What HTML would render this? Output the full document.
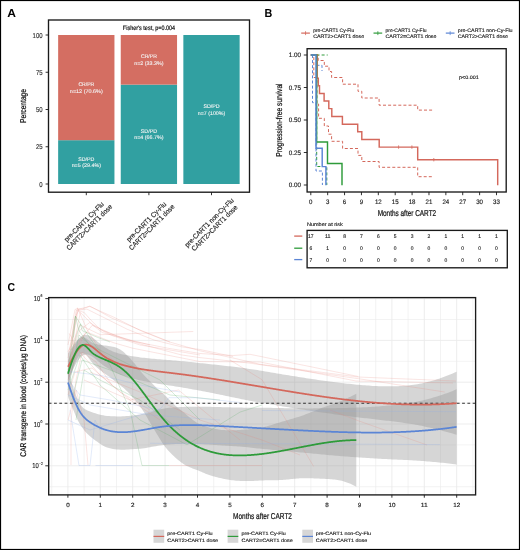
<!DOCTYPE html>
<html><head><meta charset="utf-8"><title>Figure</title>
<style>
html,body{margin:0;padding:0;background:#fff;}
svg{display:block;}
text{font-family:"Liberation Sans", sans-serif;text-rendering:geometricPrecision;}
svg{will-change:transform;}
</style></head>
<body>
<svg width="520" height="550" viewBox="0 0 520 550">
<rect width="520" height="550" fill="#fff"/>
<text x="7.20" y="16.80" font-size="11.5" fill="#000" font-weight="bold" textLength="8.70" lengthAdjust="spacingAndGlyphs">A</text>
<rect x="58.15" y="140.19" width="56.30" height="43.81" fill="#31A0A1"/>
<rect x="58.15" y="35.00" width="56.30" height="105.19" fill="#D46E62"/>
<rect x="120.75" y="84.62" width="56.30" height="99.38" fill="#31A0A1"/>
<rect x="120.75" y="35.00" width="56.30" height="49.62" fill="#D46E62"/>
<rect x="183.35" y="35.00" width="56.30" height="149.00" fill="#31A0A1"/>
<rect x="48.5" y="20" width="201" height="172.2" fill="none" stroke="#1a1a1a" stroke-width="1.35"/>
<line x1="45.6" y1="184.00" x2="48.5" y2="184.00" stroke="#1a1a1a" stroke-width="0.9"/>
<text x="39.27" y="186.50" font-size="7" fill="#333" textLength="3.33" lengthAdjust="spacingAndGlyphs" stroke="#333" stroke-width="0.15">0</text>
<line x1="45.6" y1="146.75" x2="48.5" y2="146.75" stroke="#1a1a1a" stroke-width="0.9"/>
<text x="35.94" y="149.25" font-size="7" fill="#333" textLength="6.66" lengthAdjust="spacingAndGlyphs" stroke="#333" stroke-width="0.15">25</text>
<line x1="45.6" y1="109.50" x2="48.5" y2="109.50" stroke="#1a1a1a" stroke-width="0.9"/>
<text x="35.94" y="112.00" font-size="7" fill="#333" textLength="6.66" lengthAdjust="spacingAndGlyphs" stroke="#333" stroke-width="0.15">50</text>
<line x1="45.6" y1="72.25" x2="48.5" y2="72.25" stroke="#1a1a1a" stroke-width="0.9"/>
<text x="35.94" y="74.75" font-size="7" fill="#333" textLength="6.66" lengthAdjust="spacingAndGlyphs" stroke="#333" stroke-width="0.15">75</text>
<line x1="45.6" y1="35.00" x2="48.5" y2="35.00" stroke="#1a1a1a" stroke-width="0.9"/>
<text x="32.61" y="37.50" font-size="7" fill="#333" textLength="9.99" lengthAdjust="spacingAndGlyphs" stroke="#333" stroke-width="0.15">100</text>
<line x1="86.30" y1="192.2" x2="86.30" y2="195.2" stroke="#1a1a1a" stroke-width="0.9"/>
<line x1="148.90" y1="192.2" x2="148.90" y2="195.2" stroke="#1a1a1a" stroke-width="0.9"/>
<line x1="211.50" y1="192.2" x2="211.50" y2="195.2" stroke="#1a1a1a" stroke-width="0.9"/>
<text x="122.85" y="29.60" font-size="6.3" fill="#000" textLength="52.30" lengthAdjust="spacingAndGlyphs" stroke="#000" stroke-width="0.15">Fisher's test, p=0.004</text>
<g transform="translate(25.7,106) rotate(-90)">
<text x="-17.00" y="0.00" font-size="8.5" fill="#111" textLength="34.00" lengthAdjust="spacingAndGlyphs" stroke="#111" stroke-width="0.22">Percentage</text>
</g>
<text x="78.40" y="86.20" font-size="5.2" fill="#F4F4F4" textLength="15.80" lengthAdjust="spacingAndGlyphs" stroke="#F4F4F4" stroke-width="0.1">CR/PR</text>
<text x="69.85" y="92.70" font-size="5.2" fill="#F4F4F4" textLength="32.90" lengthAdjust="spacingAndGlyphs" stroke="#F4F4F4" stroke-width="0.1">n=12 (70.6%)</text>
<text x="78.20" y="160.70" font-size="5.2" fill="#F4F4F4" textLength="16.20" lengthAdjust="spacingAndGlyphs" stroke="#F4F4F4" stroke-width="0.1">SD/PD</text>
<text x="71.65" y="167.20" font-size="5.2" fill="#F4F4F4" textLength="29.30" lengthAdjust="spacingAndGlyphs" stroke="#F4F4F4" stroke-width="0.1">n=5 (29.4%)</text>
<text x="141.00" y="58.41" font-size="5.2" fill="#F4F4F4" textLength="15.80" lengthAdjust="spacingAndGlyphs" stroke="#F4F4F4" stroke-width="0.1">CR/PR</text>
<text x="134.25" y="64.91" font-size="5.2" fill="#F4F4F4" textLength="29.30" lengthAdjust="spacingAndGlyphs" stroke="#F4F4F4" stroke-width="0.1">n=2 (33.3%)</text>
<text x="140.80" y="132.91" font-size="5.2" fill="#F4F4F4" textLength="16.20" lengthAdjust="spacingAndGlyphs" stroke="#F4F4F4" stroke-width="0.1">SD/PD</text>
<text x="134.25" y="139.41" font-size="5.2" fill="#F4F4F4" textLength="29.30" lengthAdjust="spacingAndGlyphs" stroke="#F4F4F4" stroke-width="0.1">n=4 (66.7%)</text>
<text x="203.40" y="108.10" font-size="5.2" fill="#F4F4F4" textLength="16.20" lengthAdjust="spacingAndGlyphs" stroke="#F4F4F4" stroke-width="0.1">SD/PD</text>
<text x="197.75" y="114.60" font-size="5.2" fill="#F4F4F4" textLength="27.50" lengthAdjust="spacingAndGlyphs" stroke="#F4F4F4" stroke-width="0.1">n=7 (100%)</text>
<g transform="translate(86.50,224.40) rotate(-45)">
<text x="-26.50" y="-1.25" font-size="7.0" fill="#222" textLength="53.00" lengthAdjust="spacingAndGlyphs" stroke="#222" stroke-width="0.15">pre-CART1 Cy-Flu</text>
<text x="-30.75" y="6.35" font-size="7.0" fill="#222" textLength="61.50" lengthAdjust="spacingAndGlyphs" stroke="#222" stroke-width="0.15">CART2&gt;CART1 dose</text>
</g>
<g transform="translate(148.90,224.40) rotate(-45)">
<text x="-26.50" y="-1.25" font-size="7.0" fill="#222" textLength="53.00" lengthAdjust="spacingAndGlyphs" stroke="#222" stroke-width="0.15">pre-CART1 Cy-Flu</text>
<text x="-30.75" y="6.35" font-size="7.0" fill="#222" textLength="61.50" lengthAdjust="spacingAndGlyphs" stroke="#222" stroke-width="0.15">CART2=CART1 dose</text>
</g>
<g transform="translate(211.70,225.20) rotate(-45)">
<text x="-33.10" y="-1.25" font-size="7.0" fill="#222" textLength="66.20" lengthAdjust="spacingAndGlyphs" stroke="#222" stroke-width="0.15">pre-CART1 non-Cy-Flu</text>
<text x="-30.90" y="6.35" font-size="7.0" fill="#222" textLength="61.80" lengthAdjust="spacingAndGlyphs" stroke="#222" stroke-width="0.15">CART2&gt;CART1 dose</text>
</g>
<text x="264.60" y="16.90" font-size="11.5" fill="#000" font-weight="bold" textLength="7.80" lengthAdjust="spacingAndGlyphs">B</text>
<line x1="301.20" y1="33.1" x2="309.90" y2="33.1" stroke="#D4685C" stroke-width="1.2"/>
<line x1="305.55" y1="31.2" x2="305.55" y2="35.1" stroke="#D4685C" stroke-width="0.8"/>
<text x="313.20" y="31.60" font-size="4.95" fill="#222" textLength="41.00" lengthAdjust="spacingAndGlyphs" stroke="#222" stroke-width="0.14">pre-CART1 Cy-Flu</text>
<text x="313.20" y="37.90" font-size="4.95" fill="#222" textLength="51.00" lengthAdjust="spacingAndGlyphs" stroke="#222" stroke-width="0.14">CART2&gt;CART1 dose</text>
<line x1="373.50" y1="33.1" x2="382.20" y2="33.1" stroke="#2E9B3A" stroke-width="1.2"/>
<line x1="377.85" y1="31.2" x2="377.85" y2="35.1" stroke="#2E9B3A" stroke-width="0.8"/>
<text x="385.50" y="31.60" font-size="4.95" fill="#222" textLength="41.00" lengthAdjust="spacingAndGlyphs" stroke="#222" stroke-width="0.14">pre-CART1 Cy-Flu</text>
<text x="385.50" y="37.90" font-size="4.95" fill="#222" textLength="51.00" lengthAdjust="spacingAndGlyphs" stroke="#222" stroke-width="0.14">CART2=CART1 dose</text>
<line x1="445.80" y1="33.1" x2="454.50" y2="33.1" stroke="#5B85D5" stroke-width="1.2"/>
<line x1="450.15" y1="31.2" x2="450.15" y2="35.1" stroke="#5B85D5" stroke-width="0.8"/>
<text x="457.70" y="31.60" font-size="4.95" fill="#222" textLength="54.90" lengthAdjust="spacingAndGlyphs" stroke="#222" stroke-width="0.14">pre-CART1 non-Cy-Flu</text>
<text x="457.70" y="37.90" font-size="4.95" fill="#222" textLength="50.30" lengthAdjust="spacingAndGlyphs" stroke="#222" stroke-width="0.14">CART2&gt;CART1 dose</text>
<path d="M310.8,55 H318.2 V60.5 H324.3 V66.2 H329 V71.5 H331.6 V77.5 H342.6 V84.2 H358 V91.3 H361.8 V98 H379.1 V105.2 H417.7 V110.1 H433.5" fill="none" stroke="#D4685C" stroke-width="1.0" stroke-dasharray="3,2.1" stroke-linejoin="miter" stroke-linecap="butt"/>
<path d="M310.8,55 H313.8 V77.5 H316.9 V104 H318.6 V118.3 H324.3 V126 H328.5 V134.2 H331.6 V141.3 H342.6 V148.5 H358 V155.4 H361.8 V161.5 H379.1 V167.3 H417.7 V176.7 H433.5" fill="none" stroke="#D4685C" stroke-width="1.0" stroke-dasharray="3,2.1" stroke-linejoin="miter" stroke-linecap="butt"/>
<path d="M316.5,55 H327.7" fill="none" stroke="#2E9B3A" stroke-width="1.0" stroke-dasharray="3,2.1" stroke-linejoin="miter" stroke-linecap="butt"/>
<path d="M316.7,55 V166.5 H326.8 V185" fill="none" stroke="#2E9B3A" stroke-width="1.0" stroke-dasharray="3,2.1" stroke-linejoin="miter" stroke-linecap="butt"/>
<path d="M312.5,55 V102.7 H316 V171 H322.4 V185" fill="none" stroke="#5B85D5" stroke-width="1.0" stroke-dasharray="3,2.1" stroke-linejoin="miter" stroke-linecap="butt"/>
<path d="M316.5,65.3 H322 V71" fill="none" stroke="#5B85D5" stroke-width="1.0" stroke-dasharray="3,2.1" stroke-linejoin="miter" stroke-linecap="butt"/>
<path d="M310.8,55 H317.2 V78.3 H318.3 V85.8 H319.5 V93.4 H324.1 V100.9 H328.8 V108.6 H331.8 V116.4 H342.4 V124.2 H357.7 V131.8 H361.8 V139.5 H379.2 V147.1 H417.7 V159.7 H497.7 V185.2" fill="none" stroke="#D4685C" stroke-width="1.45" stroke-linejoin="miter" stroke-linecap="butt"/>
<line x1="398.6" y1="145.4" x2="398.6" y2="148.79999999999998" stroke="#D4685C" stroke-width="0.8"/>
<line x1="411.9" y1="145.4" x2="411.9" y2="148.79999999999998" stroke="#D4685C" stroke-width="0.8"/>
<line x1="433.8" y1="158.0" x2="433.8" y2="161.39999999999998" stroke="#D4685C" stroke-width="0.8"/>
<path d="M310.8,55 H316.6 V142 H327.5 V163.5 H342 V185.2" fill="none" stroke="#2E9B3A" stroke-width="1.45" stroke-linejoin="miter" stroke-linecap="butt"/>
<path d="M310.8,55 H316.0 V148.2 H322.2 V166.6 H325.9 V185.2" fill="none" stroke="#5B85D5" stroke-width="1.45" stroke-linejoin="miter" stroke-linecap="butt"/>
<rect x="307.1" y="48.7" width="199.1" height="143.3" fill="none" stroke="#1a1a1a" stroke-width="1.35"/>
<line x1="303.8" y1="55.00" x2="307.1" y2="55.00" stroke="#1a1a1a" stroke-width="0.9"/>
<text x="288.80" y="57.30" font-size="6.4" fill="#222" textLength="12.30" lengthAdjust="spacingAndGlyphs" stroke="#222" stroke-width="0.15">1.00</text>
<line x1="303.8" y1="87.50" x2="307.1" y2="87.50" stroke="#1a1a1a" stroke-width="0.9"/>
<text x="288.80" y="89.80" font-size="6.4" fill="#222" textLength="12.30" lengthAdjust="spacingAndGlyphs" stroke="#222" stroke-width="0.15">0.75</text>
<line x1="303.8" y1="120.00" x2="307.1" y2="120.00" stroke="#1a1a1a" stroke-width="0.9"/>
<text x="288.80" y="122.30" font-size="6.4" fill="#222" textLength="12.30" lengthAdjust="spacingAndGlyphs" stroke="#222" stroke-width="0.15">0.50</text>
<line x1="303.8" y1="152.50" x2="307.1" y2="152.50" stroke="#1a1a1a" stroke-width="0.9"/>
<text x="288.80" y="154.80" font-size="6.4" fill="#222" textLength="12.30" lengthAdjust="spacingAndGlyphs" stroke="#222" stroke-width="0.15">0.25</text>
<line x1="303.8" y1="185.00" x2="307.1" y2="185.00" stroke="#1a1a1a" stroke-width="0.9"/>
<text x="288.80" y="187.30" font-size="6.4" fill="#222" textLength="12.30" lengthAdjust="spacingAndGlyphs" stroke="#222" stroke-width="0.15">0.00</text>
<line x1="310.80" y1="192" x2="310.80" y2="195.2" stroke="#1a1a1a" stroke-width="0.9"/>
<text x="309.10" y="204.00" font-size="6.4" fill="#222" textLength="3.40" lengthAdjust="spacingAndGlyphs" stroke="#222" stroke-width="0.15">0</text>
<line x1="327.68" y1="192" x2="327.68" y2="195.2" stroke="#1a1a1a" stroke-width="0.9"/>
<text x="325.98" y="204.00" font-size="6.4" fill="#222" textLength="3.40" lengthAdjust="spacingAndGlyphs" stroke="#222" stroke-width="0.15">3</text>
<line x1="344.56" y1="192" x2="344.56" y2="195.2" stroke="#1a1a1a" stroke-width="0.9"/>
<text x="342.86" y="204.00" font-size="6.4" fill="#222" textLength="3.40" lengthAdjust="spacingAndGlyphs" stroke="#222" stroke-width="0.15">6</text>
<line x1="361.44" y1="192" x2="361.44" y2="195.2" stroke="#1a1a1a" stroke-width="0.9"/>
<text x="359.74" y="204.00" font-size="6.4" fill="#222" textLength="3.40" lengthAdjust="spacingAndGlyphs" stroke="#222" stroke-width="0.15">9</text>
<line x1="378.32" y1="192" x2="378.32" y2="195.2" stroke="#1a1a1a" stroke-width="0.9"/>
<text x="374.92" y="204.00" font-size="6.4" fill="#222" textLength="6.80" lengthAdjust="spacingAndGlyphs" stroke="#222" stroke-width="0.15">12</text>
<line x1="395.21" y1="192" x2="395.21" y2="195.2" stroke="#1a1a1a" stroke-width="0.9"/>
<text x="391.81" y="204.00" font-size="6.4" fill="#222" textLength="6.80" lengthAdjust="spacingAndGlyphs" stroke="#222" stroke-width="0.15">15</text>
<line x1="412.09" y1="192" x2="412.09" y2="195.2" stroke="#1a1a1a" stroke-width="0.9"/>
<text x="408.69" y="204.00" font-size="6.4" fill="#222" textLength="6.80" lengthAdjust="spacingAndGlyphs" stroke="#222" stroke-width="0.15">18</text>
<line x1="428.97" y1="192" x2="428.97" y2="195.2" stroke="#1a1a1a" stroke-width="0.9"/>
<text x="425.57" y="204.00" font-size="6.4" fill="#222" textLength="6.80" lengthAdjust="spacingAndGlyphs" stroke="#222" stroke-width="0.15">21</text>
<line x1="445.85" y1="192" x2="445.85" y2="195.2" stroke="#1a1a1a" stroke-width="0.9"/>
<text x="442.45" y="204.00" font-size="6.4" fill="#222" textLength="6.80" lengthAdjust="spacingAndGlyphs" stroke="#222" stroke-width="0.15">24</text>
<line x1="462.73" y1="192" x2="462.73" y2="195.2" stroke="#1a1a1a" stroke-width="0.9"/>
<text x="459.33" y="204.00" font-size="6.4" fill="#222" textLength="6.80" lengthAdjust="spacingAndGlyphs" stroke="#222" stroke-width="0.15">27</text>
<line x1="479.61" y1="192" x2="479.61" y2="195.2" stroke="#1a1a1a" stroke-width="0.9"/>
<text x="476.21" y="204.00" font-size="6.4" fill="#222" textLength="6.80" lengthAdjust="spacingAndGlyphs" stroke="#222" stroke-width="0.15">30</text>
<line x1="496.49" y1="192" x2="496.49" y2="195.2" stroke="#1a1a1a" stroke-width="0.9"/>
<text x="493.09" y="204.00" font-size="6.4" fill="#222" textLength="6.80" lengthAdjust="spacingAndGlyphs" stroke="#222" stroke-width="0.15">33</text>
<text x="377.65" y="216.10" font-size="8.5" fill="#111" textLength="58.50" lengthAdjust="spacingAndGlyphs" stroke="#111" stroke-width="0.22">Months after CART2</text>
<g transform="translate(282.2,120.1) rotate(-90)">
<text x="-36.65" y="0.00" font-size="8.5" fill="#111" textLength="73.30" lengthAdjust="spacingAndGlyphs" stroke="#111" stroke-width="0.22">Progression-free survival</text>
</g>
<text x="459.10" y="78.75" font-size="5.0" fill="#222" textLength="19.70" lengthAdjust="spacingAndGlyphs" stroke="#222" stroke-width="0.14">p&lt;0.001</text>
<text x="306.90" y="225.60" font-size="5.0" fill="#222" textLength="36.00" lengthAdjust="spacingAndGlyphs" stroke="#222" stroke-width="0.14">Number at risk</text>
<rect x="307.1" y="230.4" width="200.2" height="37.4" fill="none" stroke="#1a1a1a" stroke-width="1.35"/>
<line x1="294.2" y1="236.1" x2="302.3" y2="236.1" stroke="#D4685C" stroke-width="1.3"/>
<text x="308.05" y="238.00" font-size="5.3" fill="#222" textLength="5.50" lengthAdjust="spacingAndGlyphs" stroke="#222" stroke-width="0.14">17</text>
<text x="324.93" y="238.00" font-size="5.3" fill="#222" textLength="5.50" lengthAdjust="spacingAndGlyphs" stroke="#222" stroke-width="0.14">11</text>
<text x="343.19" y="238.00" font-size="5.3" fill="#222" textLength="2.75" lengthAdjust="spacingAndGlyphs" stroke="#222" stroke-width="0.14">8</text>
<text x="360.07" y="238.00" font-size="5.3" fill="#222" textLength="2.75" lengthAdjust="spacingAndGlyphs" stroke="#222" stroke-width="0.14">7</text>
<text x="376.95" y="238.00" font-size="5.3" fill="#222" textLength="2.75" lengthAdjust="spacingAndGlyphs" stroke="#222" stroke-width="0.14">6</text>
<text x="393.83" y="238.00" font-size="5.3" fill="#222" textLength="2.75" lengthAdjust="spacingAndGlyphs" stroke="#222" stroke-width="0.14">5</text>
<text x="410.71" y="238.00" font-size="5.3" fill="#222" textLength="2.75" lengthAdjust="spacingAndGlyphs" stroke="#222" stroke-width="0.14">3</text>
<text x="427.59" y="238.00" font-size="5.3" fill="#222" textLength="2.75" lengthAdjust="spacingAndGlyphs" stroke="#222" stroke-width="0.14">2</text>
<text x="444.47" y="238.00" font-size="5.3" fill="#222" textLength="2.75" lengthAdjust="spacingAndGlyphs" stroke="#222" stroke-width="0.14">1</text>
<text x="461.35" y="238.00" font-size="5.3" fill="#222" textLength="2.75" lengthAdjust="spacingAndGlyphs" stroke="#222" stroke-width="0.14">1</text>
<text x="478.24" y="238.00" font-size="5.3" fill="#222" textLength="2.75" lengthAdjust="spacingAndGlyphs" stroke="#222" stroke-width="0.14">1</text>
<text x="495.12" y="238.00" font-size="5.3" fill="#222" textLength="2.75" lengthAdjust="spacingAndGlyphs" stroke="#222" stroke-width="0.14">1</text>
<line x1="294.2" y1="248.2" x2="302.3" y2="248.2" stroke="#2E9B3A" stroke-width="1.3"/>
<text x="309.43" y="250.10" font-size="5.3" fill="#222" textLength="2.75" lengthAdjust="spacingAndGlyphs" stroke="#222" stroke-width="0.14">6</text>
<text x="326.31" y="250.10" font-size="5.3" fill="#222" textLength="2.75" lengthAdjust="spacingAndGlyphs" stroke="#222" stroke-width="0.14">1</text>
<text x="343.19" y="250.10" font-size="5.3" fill="#222" textLength="2.75" lengthAdjust="spacingAndGlyphs" stroke="#222" stroke-width="0.14">0</text>
<text x="360.07" y="250.10" font-size="5.3" fill="#222" textLength="2.75" lengthAdjust="spacingAndGlyphs" stroke="#222" stroke-width="0.14">0</text>
<text x="376.95" y="250.10" font-size="5.3" fill="#222" textLength="2.75" lengthAdjust="spacingAndGlyphs" stroke="#222" stroke-width="0.14">0</text>
<text x="393.83" y="250.10" font-size="5.3" fill="#222" textLength="2.75" lengthAdjust="spacingAndGlyphs" stroke="#222" stroke-width="0.14">0</text>
<text x="410.71" y="250.10" font-size="5.3" fill="#222" textLength="2.75" lengthAdjust="spacingAndGlyphs" stroke="#222" stroke-width="0.14">0</text>
<text x="427.59" y="250.10" font-size="5.3" fill="#222" textLength="2.75" lengthAdjust="spacingAndGlyphs" stroke="#222" stroke-width="0.14">0</text>
<text x="444.47" y="250.10" font-size="5.3" fill="#222" textLength="2.75" lengthAdjust="spacingAndGlyphs" stroke="#222" stroke-width="0.14">0</text>
<text x="461.35" y="250.10" font-size="5.3" fill="#222" textLength="2.75" lengthAdjust="spacingAndGlyphs" stroke="#222" stroke-width="0.14">0</text>
<text x="478.24" y="250.10" font-size="5.3" fill="#222" textLength="2.75" lengthAdjust="spacingAndGlyphs" stroke="#222" stroke-width="0.14">0</text>
<text x="495.12" y="250.10" font-size="5.3" fill="#222" textLength="2.75" lengthAdjust="spacingAndGlyphs" stroke="#222" stroke-width="0.14">0</text>
<line x1="294.2" y1="259.6" x2="302.3" y2="259.6" stroke="#5B85D5" stroke-width="1.3"/>
<text x="309.43" y="261.50" font-size="5.3" fill="#222" textLength="2.75" lengthAdjust="spacingAndGlyphs" stroke="#222" stroke-width="0.14">7</text>
<text x="326.31" y="261.50" font-size="5.3" fill="#222" textLength="2.75" lengthAdjust="spacingAndGlyphs" stroke="#222" stroke-width="0.14">0</text>
<text x="343.19" y="261.50" font-size="5.3" fill="#222" textLength="2.75" lengthAdjust="spacingAndGlyphs" stroke="#222" stroke-width="0.14">0</text>
<text x="360.07" y="261.50" font-size="5.3" fill="#222" textLength="2.75" lengthAdjust="spacingAndGlyphs" stroke="#222" stroke-width="0.14">0</text>
<text x="376.95" y="261.50" font-size="5.3" fill="#222" textLength="2.75" lengthAdjust="spacingAndGlyphs" stroke="#222" stroke-width="0.14">0</text>
<text x="393.83" y="261.50" font-size="5.3" fill="#222" textLength="2.75" lengthAdjust="spacingAndGlyphs" stroke="#222" stroke-width="0.14">0</text>
<text x="410.71" y="261.50" font-size="5.3" fill="#222" textLength="2.75" lengthAdjust="spacingAndGlyphs" stroke="#222" stroke-width="0.14">0</text>
<text x="427.59" y="261.50" font-size="5.3" fill="#222" textLength="2.75" lengthAdjust="spacingAndGlyphs" stroke="#222" stroke-width="0.14">0</text>
<text x="444.47" y="261.50" font-size="5.3" fill="#222" textLength="2.75" lengthAdjust="spacingAndGlyphs" stroke="#222" stroke-width="0.14">0</text>
<text x="461.35" y="261.50" font-size="5.3" fill="#222" textLength="2.75" lengthAdjust="spacingAndGlyphs" stroke="#222" stroke-width="0.14">0</text>
<text x="478.24" y="261.50" font-size="5.3" fill="#222" textLength="2.75" lengthAdjust="spacingAndGlyphs" stroke="#222" stroke-width="0.14">0</text>
<text x="495.12" y="261.50" font-size="5.3" fill="#222" textLength="2.75" lengthAdjust="spacingAndGlyphs" stroke="#222" stroke-width="0.14">0</text>
<text x="7.40" y="291.20" font-size="11.5" fill="#000" font-weight="bold" textLength="7.60" lengthAdjust="spacingAndGlyphs">C</text>
<g stroke="#EBEBEB">
<line x1="51.70" y1="297.6" x2="51.70" y2="494.9" stroke-width="0.6"/>
<line x1="67.90" y1="297.6" x2="67.90" y2="494.9" stroke-width="0.9"/>
<line x1="84.10" y1="297.6" x2="84.10" y2="494.9" stroke-width="0.6"/>
<line x1="100.30" y1="297.6" x2="100.30" y2="494.9" stroke-width="0.9"/>
<line x1="116.50" y1="297.6" x2="116.50" y2="494.9" stroke-width="0.6"/>
<line x1="132.70" y1="297.6" x2="132.70" y2="494.9" stroke-width="0.9"/>
<line x1="148.90" y1="297.6" x2="148.90" y2="494.9" stroke-width="0.6"/>
<line x1="165.10" y1="297.6" x2="165.10" y2="494.9" stroke-width="0.9"/>
<line x1="181.30" y1="297.6" x2="181.30" y2="494.9" stroke-width="0.6"/>
<line x1="197.50" y1="297.6" x2="197.50" y2="494.9" stroke-width="0.9"/>
<line x1="213.70" y1="297.6" x2="213.70" y2="494.9" stroke-width="0.6"/>
<line x1="229.90" y1="297.6" x2="229.90" y2="494.9" stroke-width="0.9"/>
<line x1="246.10" y1="297.6" x2="246.10" y2="494.9" stroke-width="0.6"/>
<line x1="262.30" y1="297.6" x2="262.30" y2="494.9" stroke-width="0.9"/>
<line x1="278.50" y1="297.6" x2="278.50" y2="494.9" stroke-width="0.6"/>
<line x1="294.70" y1="297.6" x2="294.70" y2="494.9" stroke-width="0.9"/>
<line x1="310.90" y1="297.6" x2="310.90" y2="494.9" stroke-width="0.6"/>
<line x1="327.10" y1="297.6" x2="327.10" y2="494.9" stroke-width="0.9"/>
<line x1="343.30" y1="297.6" x2="343.30" y2="494.9" stroke-width="0.6"/>
<line x1="359.50" y1="297.6" x2="359.50" y2="494.9" stroke-width="0.9"/>
<line x1="375.70" y1="297.6" x2="375.70" y2="494.9" stroke-width="0.6"/>
<line x1="391.90" y1="297.6" x2="391.90" y2="494.9" stroke-width="0.9"/>
<line x1="408.10" y1="297.6" x2="408.10" y2="494.9" stroke-width="0.6"/>
<line x1="424.30" y1="297.6" x2="424.30" y2="494.9" stroke-width="0.9"/>
<line x1="440.50" y1="297.6" x2="440.50" y2="494.9" stroke-width="0.6"/>
<line x1="456.70" y1="297.6" x2="456.70" y2="494.9" stroke-width="0.9"/>
<line x1="472.90" y1="297.6" x2="472.90" y2="494.9" stroke-width="0.6"/>
<line x1="48.7" y1="486.70" x2="475.6" y2="486.70" stroke-width="0.6"/>
<line x1="48.7" y1="465.80" x2="475.6" y2="465.80" stroke-width="0.9"/>
<line x1="48.7" y1="444.90" x2="475.6" y2="444.90" stroke-width="0.6"/>
<line x1="48.7" y1="424.00" x2="475.6" y2="424.00" stroke-width="0.9"/>
<line x1="48.7" y1="403.10" x2="475.6" y2="403.10" stroke-width="0.6"/>
<line x1="48.7" y1="382.20" x2="475.6" y2="382.20" stroke-width="0.9"/>
<line x1="48.7" y1="361.30" x2="475.6" y2="361.30" stroke-width="0.6"/>
<line x1="48.7" y1="340.40" x2="475.6" y2="340.40" stroke-width="0.9"/>
<line x1="48.7" y1="319.50" x2="475.6" y2="319.50" stroke-width="0.6"/>
<line x1="48.7" y1="298.60" x2="475.6" y2="298.60" stroke-width="0.9"/>
</g>
<path d="M68.00,353.24 L69.95,350.16 L71.91,347.16 L73.86,344.32 L75.81,341.72 L77.76,339.41 L79.72,337.48 L81.67,336.01 L83.62,335.06 L85.57,334.74 L87.53,334.98 L89.48,335.70 L91.43,336.79 L93.39,338.17 L95.34,339.75 L97.29,341.42 L99.24,343.09 L101.20,344.67 L103.15,346.11 L105.10,347.42 L107.06,348.59 L109.01,349.64 L110.96,350.59 L112.91,351.43 L114.87,352.18 L116.82,352.85 L118.77,353.44 L120.72,353.97 L122.68,354.44 L124.63,354.87 L126.58,355.26 L128.54,355.62 L130.49,355.95 L132.44,356.27 L134.39,356.56 L136.35,356.84 L138.30,357.12 L140.25,357.38 L142.21,357.63 L144.16,357.86 L146.11,358.08 L148.06,358.29 L150.02,358.48 L151.97,358.67 L153.92,358.85 L155.87,359.02 L157.83,359.18 L159.78,359.34 L161.73,359.50 L163.69,359.65 L165.64,359.80 L167.59,359.96 L169.54,360.11 L171.50,360.27 L173.45,360.44 L175.40,360.61 L177.35,360.78 L179.31,360.95 L181.26,361.14 L183.21,361.32 L185.17,361.51 L187.12,361.70 L189.07,361.90 L191.02,362.10 L192.98,362.30 L194.93,362.50 L196.88,362.71 L198.84,362.92 L200.79,363.13 L202.74,363.35 L204.69,363.56 L206.65,363.77 L208.60,363.98 L210.55,364.19 L212.50,364.40 L214.46,364.61 L216.41,364.82 L218.36,365.03 L220.32,365.25 L222.27,365.46 L224.22,365.68 L226.17,365.91 L228.13,366.13 L230.08,366.36 L232.03,366.59 L233.98,366.83 L235.94,367.07 L237.89,367.32 L239.84,367.57 L241.80,367.83 L243.75,368.09 L245.70,368.36 L247.65,368.63 L249.61,368.92 L251.56,369.21 L253.51,369.50 L255.47,369.81 L257.42,370.12 L259.37,370.45 L261.32,370.78 L263.28,371.11 L265.23,371.44 L267.18,371.77 L269.13,372.10 L271.09,372.42 L273.04,372.75 L274.99,373.08 L276.95,373.41 L278.90,373.73 L280.85,374.06 L282.80,374.38 L284.76,374.70 L286.71,375.02 L288.66,375.34 L290.62,375.66 L292.57,375.98 L294.52,376.29 L296.47,376.61 L298.43,376.92 L300.38,377.23 L302.33,377.54 L304.28,377.84 L306.24,378.14 L308.19,378.45 L310.14,378.74 L312.10,379.04 L314.05,379.33 L316.00,379.62 L317.95,379.91 L319.91,380.20 L321.86,380.48 L323.81,380.75 L325.76,381.02 L327.72,381.29 L329.67,381.55 L331.62,381.81 L333.58,382.06 L335.53,382.30 L337.48,382.54 L339.43,382.78 L341.39,383.01 L343.34,383.23 L345.29,383.45 L347.25,383.66 L349.20,383.87 L351.15,384.07 L353.10,384.27 L355.06,384.46 L357.01,384.64 L358.96,384.82 L360.91,384.99 L362.87,385.16 L364.82,385.32 L366.77,385.47 L368.73,385.62 L370.68,385.76 L372.63,385.88 L374.58,385.99 L376.54,386.08 L378.49,386.16 L380.44,386.22 L382.39,386.26 L384.35,386.30 L386.30,386.32 L388.25,386.33 L390.21,386.32 L392.16,386.31 L394.11,386.28 L396.06,386.23 L398.02,386.15 L399.97,386.06 L401.92,385.94 L403.88,385.80 L405.83,385.63 L407.78,385.45 L409.73,385.25 L411.69,385.03 L413.64,384.79 L415.59,384.51 L417.54,384.18 L419.50,383.82 L421.45,383.42 L423.40,382.99 L425.36,382.53 L427.31,382.04 L429.26,381.53 L431.21,381.00 L433.17,380.45 L435.12,379.89 L437.07,379.30 L439.03,378.67 L440.98,378.02 L442.93,377.33 L444.88,376.61 L446.84,375.86 L448.79,375.09 L450.74,374.28 L452.69,373.45 L454.65,372.59 L456.60,371.71 L456.60,434.71 L454.65,434.13 L452.69,433.57 L450.74,433.01 L448.79,432.46 L446.84,431.92 L444.88,431.39 L442.93,430.88 L440.98,430.37 L439.03,429.88 L437.07,429.41 L435.12,428.95 L433.17,428.50 L431.21,428.04 L429.26,427.59 L427.31,427.14 L425.36,426.70 L423.40,426.26 L421.45,425.84 L419.50,425.44 L417.54,425.06 L415.59,424.70 L413.64,424.37 L411.69,424.06 L409.73,423.76 L407.78,423.46 L405.83,423.17 L403.88,422.89 L401.92,422.61 L399.97,422.34 L398.02,422.07 L396.06,421.82 L394.11,421.57 L392.16,421.33 L390.21,421.10 L388.25,420.86 L386.30,420.63 L384.35,420.39 L382.39,420.15 L380.44,419.91 L378.49,419.68 L376.54,419.45 L374.58,419.22 L372.63,419.00 L370.68,418.78 L368.73,418.57 L366.77,418.36 L364.82,418.14 L362.87,417.92 L360.91,417.69 L358.96,417.46 L357.01,417.22 L355.06,416.98 L353.10,416.74 L351.15,416.49 L349.20,416.24 L347.25,415.99 L345.29,415.73 L343.34,415.48 L341.39,415.21 L339.43,414.95 L337.48,414.68 L335.53,414.42 L333.58,414.14 L331.62,413.87 L329.67,413.60 L327.72,413.32 L325.76,413.04 L323.81,412.76 L321.86,412.48 L319.91,412.20 L317.95,411.91 L316.00,411.62 L314.05,411.33 L312.10,411.04 L310.14,410.74 L308.19,410.45 L306.24,410.14 L304.28,409.84 L302.33,409.54 L300.38,409.23 L298.43,408.92 L296.47,408.61 L294.52,408.29 L292.57,407.98 L290.62,407.66 L288.66,407.34 L286.71,407.02 L284.76,406.70 L282.80,406.38 L280.85,406.06 L278.90,405.73 L276.95,405.41 L274.99,405.08 L273.04,404.75 L271.09,404.42 L269.13,404.10 L267.18,403.77 L265.23,403.44 L263.28,403.11 L261.32,402.78 L259.37,402.45 L257.42,402.11 L255.47,401.76 L253.51,401.41 L251.56,401.05 L249.61,400.68 L247.65,400.30 L245.70,399.92 L243.75,399.54 L241.80,399.14 L239.84,398.75 L237.89,398.35 L235.94,397.95 L233.98,397.54 L232.03,397.14 L230.08,396.73 L228.13,396.32 L226.17,395.91 L224.22,395.50 L222.27,395.09 L220.32,394.69 L218.36,394.28 L216.41,393.88 L214.46,393.48 L212.50,393.08 L210.55,392.68 L208.60,392.29 L206.65,391.91 L204.69,391.53 L202.74,391.16 L200.79,390.79 L198.84,390.43 L196.88,390.08 L194.93,389.73 L192.98,389.38 L191.02,389.03 L189.07,388.69 L187.12,388.35 L185.17,388.02 L183.21,387.69 L181.26,387.36 L179.31,387.03 L177.35,386.71 L175.40,386.40 L173.45,386.09 L171.50,385.78 L169.54,385.47 L167.59,385.17 L165.64,384.87 L163.69,384.57 L161.73,384.27 L159.78,383.96 L157.83,383.65 L155.87,383.33 L153.92,383.01 L151.97,382.67 L150.02,382.33 L148.06,381.97 L146.11,381.60 L144.16,381.22 L142.21,380.82 L140.25,380.40 L138.30,379.96 L136.35,379.49 L134.39,378.99 L132.44,378.46 L130.49,377.90 L128.54,377.31 L126.58,376.69 L124.63,376.04 L122.68,375.35 L120.72,374.63 L118.77,373.85 L116.82,373.02 L114.87,372.12 L112.91,371.17 L110.96,370.13 L109.01,369.02 L107.06,367.83 L105.10,366.54 L103.15,365.16 L101.20,363.68 L99.24,362.09 L97.29,360.45 L95.34,358.83 L93.39,357.34 L91.43,356.07 L89.48,355.11 L87.53,354.55 L85.57,354.48 L83.62,354.99 L81.67,356.21 L79.72,358.19 L77.76,360.83 L75.81,364.02 L73.86,367.67 L71.91,371.66 L69.95,375.88 L68.00,380.24 Z" fill="#999999" fill-opacity="0.4"/>
<path d="M68.00,360.79 L69.45,356.91 L70.90,353.24 L72.35,349.84 L73.79,346.73 L75.24,343.97 L76.69,341.61 L78.14,339.68 L79.59,338.23 L81.04,337.30 L82.49,336.94 L83.94,337.18 L85.38,337.88 L86.83,338.84 L88.28,339.95 L89.73,341.07 L91.18,342.10 L92.63,342.92 L94.08,343.51 L95.53,343.98 L96.97,344.34 L98.42,344.63 L99.87,344.87 L101.32,345.07 L102.77,345.24 L104.22,345.41 L105.67,345.58 L107.12,345.79 L108.56,346.03 L110.01,346.26 L111.46,346.50 L112.91,346.77 L114.36,347.10 L115.81,347.51 L117.26,348.02 L118.71,348.66 L120.15,349.46 L121.60,350.44 L123.05,351.59 L124.50,352.83 L125.95,354.16 L127.40,355.57 L128.85,357.05 L130.30,358.60 L131.74,360.21 L133.19,361.89 L134.64,363.61 L136.09,365.39 L137.54,367.21 L138.99,369.07 L140.44,370.95 L141.89,372.74 L143.33,374.42 L144.78,376.00 L146.23,377.51 L147.68,378.97 L149.13,380.40 L150.58,381.83 L152.03,383.27 L153.48,384.75 L154.92,386.24 L156.37,387.66 L157.82,389.00 L159.27,390.30 L160.72,391.56 L162.17,392.82 L163.62,394.10 L165.07,395.41 L166.51,396.79 L167.96,398.27 L169.41,399.79 L170.86,401.25 L172.31,402.67 L173.76,404.05 L175.21,405.38 L176.66,406.66 L178.10,407.90 L179.55,409.10 L181.00,410.26 L182.45,411.41 L183.90,412.60 L185.35,413.81 L186.80,415.02 L188.25,416.24 L189.69,417.43 L191.14,418.59 L192.59,419.71 L194.04,420.77 L195.49,421.77 L196.94,422.68 L198.39,423.50 L199.84,424.22 L201.28,424.85 L202.73,425.43 L204.18,425.97 L205.63,426.48 L207.08,426.94 L208.53,427.37 L209.98,427.77 L211.43,428.13 L212.87,428.47 L214.32,428.77 L215.77,429.05 L217.22,429.31 L218.67,429.53 L220.12,429.72 L221.57,429.88 L223.02,430.01 L224.46,430.11 L225.91,430.18 L227.36,430.23 L228.81,430.26 L230.26,430.27 L231.71,430.25 L233.16,430.23 L234.61,430.18 L236.05,430.13 L237.50,430.06 L238.95,429.99 L240.40,429.91 L241.85,429.82 L243.30,429.73 L244.75,429.62 L246.20,429.51 L247.64,429.39 L249.09,429.25 L250.54,429.11 L251.99,428.95 L253.44,428.78 L254.89,428.59 L256.34,428.39 L257.79,428.18 L259.23,427.94 L260.68,427.69 L262.13,427.42 L263.58,427.13 L265.03,426.79 L266.48,426.43 L267.93,426.03 L269.38,425.62 L270.82,425.19 L272.27,424.74 L273.72,424.29 L275.17,423.83 L276.62,423.36 L278.07,422.91 L279.52,422.45 L280.97,422.02 L282.41,421.59 L283.86,421.17 L285.31,420.75 L286.76,420.34 L288.21,419.92 L289.66,419.51 L291.11,419.09 L292.56,418.67 L294.00,418.24 L295.45,417.81 L296.90,417.36 L298.35,416.90 L299.80,416.42 L301.25,415.93 L302.70,415.42 L304.15,414.89 L305.59,414.34 L307.04,413.78 L308.49,413.21 L309.94,412.63 L311.39,412.05 L312.84,411.46 L314.29,410.88 L315.74,410.30 L317.18,409.72 L318.63,409.16 L320.08,408.60 L321.53,408.06 L322.98,407.53 L324.43,407.01 L325.88,406.50 L327.33,405.99 L328.77,405.49 L330.22,404.98 L331.67,404.48 L333.12,403.97 L334.57,403.46 L336.02,402.94 L337.47,402.40 L338.92,401.85 L340.36,401.29 L341.81,400.70 L343.26,400.08 L344.71,399.43 L346.16,398.75 L347.61,398.06 L349.06,397.35 L350.51,396.63 L351.95,395.89 L353.40,395.14 L354.85,394.39 L356.30,393.64 L356.30,486.64 L354.85,485.90 L353.40,485.18 L351.95,484.50 L350.51,483.86 L349.06,483.25 L347.61,482.68 L346.16,482.15 L344.71,481.67 L343.26,481.23 L341.81,480.85 L340.36,480.51 L338.92,480.22 L337.47,479.97 L336.02,479.75 L334.57,479.56 L333.12,479.40 L331.67,479.26 L330.22,479.14 L328.77,479.04 L327.33,478.96 L325.88,478.88 L324.43,478.82 L322.98,478.75 L321.53,478.69 L320.08,478.63 L318.63,478.57 L317.18,478.51 L315.74,478.44 L314.29,478.38 L312.84,478.32 L311.39,478.28 L309.94,478.24 L308.49,478.21 L307.04,478.19 L305.59,478.19 L304.15,478.20 L302.70,478.24 L301.25,478.29 L299.80,478.37 L298.35,478.46 L296.90,478.58 L295.45,478.70 L294.00,478.83 L292.56,478.97 L291.11,479.11 L289.66,479.25 L288.21,479.40 L286.76,479.54 L285.31,479.67 L283.86,479.79 L282.41,479.91 L280.97,480.01 L279.52,480.09 L278.07,480.15 L276.62,480.19 L275.17,480.22 L273.72,480.23 L272.27,480.25 L270.82,480.25 L269.38,480.26 L267.93,480.28 L266.48,480.30 L265.03,480.33 L263.58,480.38 L262.13,480.44 L260.68,480.52 L259.23,480.60 L257.79,480.68 L256.34,480.75 L254.89,480.82 L253.44,480.89 L251.99,480.94 L250.54,480.99 L249.09,481.03 L247.64,481.06 L246.20,481.07 L244.75,481.07 L243.30,481.05 L241.85,481.01 L240.40,480.95 L238.95,480.87 L237.50,480.77 L236.05,480.65 L234.61,480.51 L233.16,480.34 L231.71,480.16 L230.26,479.95 L228.81,479.73 L227.36,479.49 L225.91,479.23 L224.46,478.95 L223.02,478.65 L221.57,478.35 L220.12,478.02 L218.67,477.68 L217.22,477.33 L215.77,476.95 L214.32,476.56 L212.87,476.13 L211.43,475.68 L209.98,475.21 L208.53,474.71 L207.08,474.18 L205.63,473.63 L204.18,473.06 L202.73,472.47 L201.28,471.86 L199.84,471.22 L198.39,470.61 L196.94,470.03 L195.49,469.48 L194.04,468.94 L192.59,468.40 L191.14,467.84 L189.69,467.25 L188.25,466.61 L186.80,465.91 L185.35,465.14 L183.90,464.29 L182.45,463.33 L181.00,462.26 L179.55,461.10 L178.10,459.90 L176.66,458.66 L175.21,457.38 L173.76,456.05 L172.31,454.67 L170.86,453.25 L169.41,451.79 L167.96,450.27 L166.51,448.62 L165.07,446.78 L163.62,444.77 L162.17,442.63 L160.72,440.36 L159.27,438.02 L157.82,435.62 L156.37,433.21 L154.92,430.81 L153.48,428.44 L152.03,426.01 L150.58,423.51 L149.13,420.99 L147.68,418.47 L146.23,415.98 L144.78,413.55 L143.33,411.22 L141.89,409.01 L140.44,406.96 L138.99,405.07 L137.54,403.21 L136.09,401.39 L134.64,399.61 L133.19,397.89 L131.74,396.21 L130.30,394.60 L128.85,393.05 L127.40,391.57 L125.95,390.16 L124.50,388.83 L123.05,387.59 L121.60,386.43 L120.15,385.28 L118.71,384.12 L117.26,382.96 L115.81,381.80 L114.36,380.65 L112.91,379.52 L111.46,378.42 L110.01,377.35 L108.56,376.32 L107.12,375.32 L105.67,374.30 L104.22,373.26 L102.77,372.18 L101.32,371.06 L99.87,369.92 L98.42,368.74 L96.97,367.53 L95.53,366.29 L94.08,364.95 L92.63,363.36 L91.18,361.49 L89.73,359.43 L88.28,357.38 L86.83,355.52 L85.38,354.06 L83.94,353.18 L82.49,353.02 L81.04,353.61 L79.59,354.93 L78.14,356.93 L76.69,359.57 L75.24,362.82 L73.79,366.64 L72.35,370.98 L70.90,375.81 L69.45,381.10 L68.00,386.79 Z" fill="#999999" fill-opacity="0.4"/>
<path d="M68.00,368.53 L69.95,376.22 L71.91,383.31 L73.86,389.58 L75.81,394.87 L77.76,399.47 L79.72,403.32 L81.67,406.30 L83.62,408.29 L85.57,409.54 L87.53,410.40 L89.48,411.20 L91.43,411.95 L93.39,412.65 L95.34,413.30 L97.29,413.90 L99.24,414.44 L101.20,414.92 L103.15,415.33 L105.10,415.67 L107.06,415.90 L109.01,416.05 L110.96,416.13 L112.91,416.20 L114.87,416.29 L116.82,416.38 L118.77,416.41 L120.72,416.39 L122.68,416.33 L124.63,416.23 L126.58,416.10 L128.54,415.94 L130.49,415.76 L132.44,415.55 L134.39,415.31 L136.35,415.04 L138.30,414.75 L140.25,414.43 L142.21,414.10 L144.16,413.75 L146.11,413.40 L148.06,412.95 L150.02,412.38 L151.97,411.72 L153.92,411.04 L155.87,410.38 L157.83,409.79 L159.78,409.33 L161.73,408.98 L163.69,408.66 L165.64,408.37 L167.59,408.11 L169.54,407.87 L171.50,407.67 L173.45,407.48 L175.40,407.32 L177.35,407.19 L179.31,407.07 L181.26,406.97 L183.21,406.89 L185.17,406.82 L187.12,406.77 L189.07,406.73 L191.02,406.70 L192.98,406.69 L194.93,406.68 L196.88,406.68 L198.84,406.69 L200.79,406.70 L202.74,406.72 L204.69,406.74 L206.65,406.78 L208.60,406.82 L210.55,406.86 L212.50,406.91 L214.46,406.96 L216.41,407.01 L218.36,407.06 L220.32,407.11 L222.27,407.16 L224.22,407.21 L226.17,407.27 L228.13,407.31 L230.08,407.36 L232.03,407.41 L233.98,407.46 L235.94,407.50 L237.89,407.54 L239.84,407.58 L241.80,407.61 L243.75,407.63 L245.70,407.65 L247.65,407.65 L249.61,407.65 L251.56,407.65 L253.51,407.65 L255.47,407.65 L257.42,407.66 L259.37,407.68 L261.32,407.70 L263.28,407.73 L265.23,407.76 L267.18,407.79 L269.13,407.82 L271.09,407.86 L273.04,407.90 L274.99,407.93 L276.95,407.97 L278.90,408.01 L280.85,408.05 L282.80,408.09 L284.76,408.13 L286.71,408.16 L288.66,408.20 L290.62,408.23 L292.57,408.26 L294.52,408.29 L296.47,408.31 L298.43,408.33 L300.38,408.35 L302.33,408.36 L304.28,408.37 L306.24,408.38 L308.19,408.38 L310.14,408.38 L312.10,408.38 L314.05,408.37 L316.00,408.36 L317.95,408.35 L319.91,408.34 L321.86,408.32 L323.81,408.30 L325.76,408.28 L327.72,408.26 L329.67,408.23 L331.62,408.20 L333.58,408.17 L335.53,408.13 L337.48,408.09 L339.43,408.05 L341.39,408.01 L343.34,407.97 L345.29,407.93 L347.25,407.88 L349.20,407.83 L351.15,407.77 L353.10,407.71 L355.06,407.65 L357.01,407.58 L358.96,407.51 L360.91,407.43 L362.87,407.34 L364.82,407.25 L366.77,407.14 L368.73,407.03 L370.68,406.92 L372.63,406.79 L374.58,406.66 L376.54,406.53 L378.49,406.39 L380.44,406.24 L382.39,406.08 L384.35,405.92 L386.30,405.75 L388.25,405.57 L390.21,405.38 L392.16,405.18 L394.11,404.98 L396.06,404.76 L398.02,404.53 L399.97,404.29 L401.92,404.04 L403.88,403.78 L405.83,403.50 L407.78,403.21 L409.73,402.91 L411.69,402.59 L413.64,402.26 L415.59,401.91 L417.54,401.52 L419.50,401.11 L421.45,400.67 L423.40,400.21 L425.36,399.73 L427.31,399.23 L429.26,398.71 L431.21,398.17 L433.17,397.62 L435.12,397.06 L437.07,396.47 L439.03,395.86 L440.98,395.22 L442.93,394.56 L444.88,393.87 L446.84,393.16 L448.79,392.43 L450.74,391.67 L452.69,390.90 L454.65,390.10 L456.60,389.28 L456.60,464.48 L454.65,464.24 L452.69,464.00 L450.74,463.76 L448.79,463.53 L446.84,463.31 L444.88,463.08 L442.93,462.87 L440.98,462.66 L439.03,462.47 L437.07,462.28 L435.12,462.10 L433.17,461.93 L431.21,461.75 L429.26,461.58 L427.31,461.41 L425.36,461.24 L423.40,461.08 L421.45,460.92 L419.50,460.77 L417.54,460.64 L415.59,460.51 L413.64,460.41 L411.69,460.31 L409.73,460.22 L407.78,460.12 L405.83,460.03 L403.88,459.94 L401.92,459.85 L399.97,459.76 L398.02,459.66 L396.06,459.57 L394.11,459.48 L392.16,459.38 L390.21,459.29 L388.25,459.19 L386.30,459.09 L384.35,458.99 L382.39,458.89 L380.44,458.78 L378.49,458.67 L376.54,458.56 L374.58,458.44 L372.63,458.32 L370.68,458.20 L368.73,458.08 L366.77,457.95 L364.82,457.82 L362.87,457.69 L360.91,457.57 L358.96,457.44 L357.01,457.30 L355.06,457.17 L353.10,457.03 L351.15,456.90 L349.20,456.76 L347.25,456.61 L345.29,456.46 L343.34,456.31 L341.39,456.16 L339.43,456.00 L337.48,455.83 L335.53,455.67 L333.58,455.50 L331.62,455.32 L329.67,455.15 L327.72,454.97 L325.76,454.79 L323.81,454.61 L321.86,454.43 L319.91,454.24 L317.95,454.06 L316.00,453.87 L314.05,453.68 L312.10,453.49 L310.14,453.31 L308.19,453.12 L306.24,452.93 L304.28,452.75 L302.33,452.56 L300.38,452.38 L298.43,452.20 L296.47,452.02 L294.52,451.84 L292.57,451.66 L290.62,451.49 L288.66,451.31 L286.71,451.14 L284.76,450.96 L282.80,450.79 L280.85,450.62 L278.90,450.44 L276.95,450.27 L274.99,450.09 L273.04,449.92 L271.09,449.74 L269.13,449.56 L267.18,449.37 L265.23,449.19 L263.28,449.00 L261.32,448.81 L259.37,448.62 L257.42,448.42 L255.47,448.20 L253.51,447.98 L251.56,447.75 L249.61,447.53 L247.65,447.31 L245.70,447.10 L243.75,446.91 L241.80,446.73 L239.84,446.57 L237.89,446.43 L235.94,446.29 L233.98,446.15 L232.03,446.01 L230.08,445.88 L228.13,445.75 L226.17,445.63 L224.22,445.51 L222.27,445.38 L220.32,445.27 L218.36,445.15 L216.41,445.03 L214.46,444.92 L212.50,444.81 L210.55,444.70 L208.60,444.60 L206.65,444.50 L204.69,444.40 L202.74,444.31 L200.79,444.23 L198.84,444.15 L196.88,444.07 L194.93,444.01 L192.98,443.95 L191.02,443.91 L189.07,443.88 L187.12,443.85 L185.17,443.85 L183.21,443.85 L181.26,443.88 L179.31,443.92 L177.35,443.97 L175.40,444.05 L173.45,444.15 L171.50,444.27 L169.54,444.42 L167.59,444.58 L165.64,444.78 L163.69,445.00 L161.73,445.24 L159.78,445.52 L157.83,445.82 L155.87,446.14 L153.92,446.48 L151.97,446.83 L150.02,447.18 L148.06,447.54 L146.11,447.90 L144.16,448.22 L142.21,448.48 L140.25,448.69 L138.30,448.86 L136.35,449.00 L134.39,449.12 L132.44,449.24 L130.49,449.37 L128.54,449.51 L126.58,449.62 L124.63,449.69 L122.68,449.71 L120.72,449.68 L118.77,449.60 L116.82,449.45 L114.87,449.23 L112.91,448.93 L110.96,448.55 L109.01,448.05 L107.06,447.43 L105.10,446.69 L103.15,445.75 L101.20,444.56 L99.24,443.21 L97.29,441.82 L95.34,440.42 L93.39,438.97 L91.43,437.44 L89.48,435.82 L87.53,434.00 L85.57,431.88 L83.62,429.47 L81.67,426.77 L79.72,423.74 L77.76,420.14 L75.81,415.96 L73.86,411.35 L71.91,406.58 L69.95,401.64 L68.00,396.53 Z" fill="#999999" fill-opacity="0.4"/>
<polyline points="68.0,345.0 75.0,309.5 76.4,309.0 82.2,309.0 89.9,306.1 112.0,318.2 140.0,330.0 170.0,342.0" fill="none" stroke="#E8837A" stroke-opacity="0.35" stroke-width="0.6"/>
<polyline points="70.0,350.0 77.9,311.4 79.3,311.0 84.1,312.4 90.8,320.0 100.5,329.7 112.0,335.5 140.0,345.0 200.0,355.0" fill="none" stroke="#E8837A" stroke-opacity="0.35" stroke-width="0.6"/>
<polyline points="72.0,355.0 80.3,312.4 85.0,317.2 93.7,325.8 102.4,332.6 115.0,336.0 150.0,345.0" fill="none" stroke="#E8837A" stroke-opacity="0.35" stroke-width="0.6"/>
<polyline points="69.2,333.5 71.6,337.4 74.0,345.0" fill="none" stroke="#E8837A" stroke-opacity="0.35" stroke-width="0.6"/>
<polyline points="68.0,352.0 70.8,345.5 74.8,318.5 78.8,309.1 89.6,306.4 113.8,317.2 140.8,330.7 167.7,341.4 200.0,350.8 233.1,358.0 260.0,364.3 358.0,377.0 456.0,381.0" fill="none" stroke="#E8837A" stroke-opacity="0.35" stroke-width="0.6"/>
<polyline points="68.0,358.0 76.2,310.5 86.9,309.1 100.4,315.8 127.3,329.3 154.2,340.1 181.2,346.8 200.0,349.5 233.1,356.6" fill="none" stroke="#E8837A" stroke-opacity="0.35" stroke-width="0.6"/>
<polyline points="70.0,350.0 80.0,325.0 100.4,334.7 193.3,331.5" fill="none" stroke="#E8837A" stroke-opacity="0.35" stroke-width="0.6"/>
<polyline points="68.0,362.0 80.0,330.0 89.6,322.6 103.1,330.7 127.3,340.1 167.7,348.2 200.0,353.5 233.1,355.5 250.0,354.3 358.4,376.5" fill="none" stroke="#E8837A" stroke-opacity="0.35" stroke-width="0.6"/>
<polyline points="70.0,366.0 84.0,335.0 92.3,325.3 113.8,334.7 140.8,344.1 181.2,354.9 200.0,357.6 250.0,363.2 358.4,378.7 444.7,392.0" fill="none" stroke="#E8837A" stroke-opacity="0.35" stroke-width="0.6"/>
<polyline points="68.0,370.0 80.0,340.0 86.9,332.0 113.8,342.8 132.7,348.2 200.0,361.6 260.0,362.0 356.0,381.0 453.0,383.0" fill="none" stroke="#E8837A" stroke-opacity="0.35" stroke-width="0.6"/>
<polyline points="68.0,375.0 77.5,307.8 86.9,329.3 100.4,350.8 120.0,365.0 150.0,372.0" fill="none" stroke="#E8837A" stroke-opacity="0.35" stroke-width="0.6"/>
<polyline points="68.0,380.0 78.0,350.0 100.0,375.0 130.0,400.0 160.0,420.0" fill="none" stroke="#E8837A" stroke-opacity="0.35" stroke-width="0.6"/>
<polyline points="68.0,395.0 75.0,372.0 92.0,368.0 120.0,392.0 150.0,410.0" fill="none" stroke="#E8837A" stroke-opacity="0.35" stroke-width="0.6"/>
<polyline points="68.0,420.0 76.0,390.0 84.0,420.0 88.0,465.0" fill="none" stroke="#E8837A" stroke-opacity="0.35" stroke-width="0.6"/>
<polyline points="71.0,465.0 71.0,420.0 76.0,380.0 82.0,352.0 96.0,362.0 112.0,385.0" fill="none" stroke="#E8837A" stroke-opacity="0.35" stroke-width="0.6"/>
<polyline points="84.0,380.0 130.0,400.0 178.5,390.0 211.0,417.0 240.0,440.0" fill="none" stroke="#E8837A" stroke-opacity="0.35" stroke-width="0.6"/>
<polyline points="90.0,372.0 140.0,392.0 200.0,420.0 262.0,440.0 300.0,455.0" fill="none" stroke="#E8837A" stroke-opacity="0.35" stroke-width="0.6"/>
<polyline points="169.0,465.5 262.0,465.5" fill="none" stroke="#E8837A" stroke-opacity="0.35" stroke-width="0.6"/>
<polyline points="230.0,360.0 262.0,379.7 313.7,466.5" fill="none" stroke="#E8837A" stroke-opacity="0.35" stroke-width="0.6"/>
<polyline points="330.0,410.0 359.0,421.0 427.0,445.0" fill="none" stroke="#E8837A" stroke-opacity="0.35" stroke-width="0.6"/>
<polyline points="73.5,337.4 75.5,316.2 77.4,324.9 79.3,330.7 84.0,338.0 90.0,345.0" fill="none" stroke="#5DAE6A" stroke-opacity="0.42" stroke-width="0.6"/>
<polyline points="72.0,350.0 77.4,333.5 80.3,323.9 82.2,330.7 90.8,334.5 97.6,337.4 110.0,342.0" fill="none" stroke="#5DAE6A" stroke-opacity="0.42" stroke-width="0.6"/>
<polyline points="68.0,372.0 75.4,316.2 83.1,327.8 90.8,339.3 110.0,365.0 130.0,410.0 142.0,465.5 169.0,465.5" fill="none" stroke="#5DAE6A" stroke-opacity="0.42" stroke-width="0.6"/>
<polyline points="70.0,380.0 79.0,335.0 90.0,345.0 120.0,360.0 160.0,380.0 200.0,420.0" fill="none" stroke="#5DAE6A" stroke-opacity="0.42" stroke-width="0.6"/>
<polyline points="68.0,390.0 80.0,355.0 100.0,385.0 140.0,420.0 187.0,444.8 240.0,412.1 262.0,405.0" fill="none" stroke="#5DAE6A" stroke-opacity="0.42" stroke-width="0.6"/>
<polyline points="72.0,400.0 82.0,360.0 110.0,370.0 170.0,395.0 220.0,400.0" fill="none" stroke="#5DAE6A" stroke-opacity="0.42" stroke-width="0.6"/>
<polyline points="76.0,420.0 84.0,370.0 100.0,380.0 140.0,400.0 180.0,430.0" fill="none" stroke="#5DAE6A" stroke-opacity="0.42" stroke-width="0.6"/>
<polyline points="68.0,380.0 80.0,395.0 110.0,400.0 160.0,410.0" fill="none" stroke="#8FB0EA" stroke-opacity="0.42" stroke-width="0.6"/>
<polyline points="70.0,410.0 79.0,465.5 90.0,465.5 95.0,420.0 100.0,430.0" fill="none" stroke="#8FB0EA" stroke-opacity="0.42" stroke-width="0.6"/>
<polyline points="95.5,465.5 133.0,465.5" fill="none" stroke="#8FB0EA" stroke-opacity="0.42" stroke-width="0.6"/>
<polyline points="68.0,420.0 90.0,430.0 140.0,415.0 161.0,408.3 168.8,397.7 195.8,397.7 240.0,402.5" fill="none" stroke="#8FB0EA" stroke-opacity="0.42" stroke-width="0.6"/>
<polyline points="68.0,395.0 90.0,405.0 150.0,415.0 220.0,420.0" fill="none" stroke="#8FB0EA" stroke-opacity="0.42" stroke-width="0.6"/>
<polyline points="150.0,443.3 300.0,443.8 440.0,444.6" fill="none" stroke="#8FB0EA" stroke-opacity="0.42" stroke-width="0.6"/>
<polyline points="262.0,410.5 360.0,411.2 456.0,411.7" fill="none" stroke="#8FB0EA" stroke-opacity="0.42" stroke-width="0.6"/>
<polyline points="68.0,371.4 101.7,375.6 140.0,385.0 180.0,392.0" fill="none" stroke="#8FB0EA" stroke-opacity="0.42" stroke-width="0.6"/>
<line x1="48.7" y1="403.2" x2="475.6" y2="403.2" stroke="#333" stroke-width="1.1" stroke-dasharray="2.8,2.5"/>
<path d="M68.00,366.74 L68.50,365.78 L69.00,364.83 L69.50,363.88 L70.00,362.93 L70.50,362.00 L71.00,361.07 L71.50,360.15 L72.00,359.24 L72.50,358.35 L73.00,357.47 L73.50,356.60 L74.00,355.76 L74.50,354.93 L75.00,354.13 L75.50,353.34 L76.00,352.59 L76.50,351.85 L77.00,351.14 L77.50,350.47 L78.00,349.82 L78.50,349.20 L79.00,348.61 L79.50,348.06 L80.00,347.55 L80.50,347.07 L81.00,346.63 L81.50,346.23 L82.00,345.88 L82.50,345.56 L83.00,345.30 L83.50,345.07 L84.00,344.90 L84.50,344.76 L85.00,344.67 L85.50,344.61 L86.00,344.59 L86.50,344.61 L87.00,344.67 L87.50,344.76 L88.00,344.88 L88.50,345.03 L89.00,345.21 L89.50,345.41 L90.00,345.64 L90.50,345.90 L91.00,346.17 L91.50,346.47 L92.00,346.79 L92.50,347.13 L93.00,347.48 L93.50,347.84 L94.00,348.22 L94.50,348.61 L95.00,349.01 L95.50,349.42 L96.00,349.84 L96.50,350.26 L97.00,350.68 L97.50,351.11 L98.00,351.54 L98.50,351.96 L99.00,352.39 L99.50,352.81 L100.00,353.22 L100.50,353.62 L101.00,354.02 L101.50,354.41 L102.00,354.79 L102.50,355.17 L103.00,355.53 L103.50,355.89 L104.00,356.24 L104.50,356.58 L105.00,356.91 L105.50,357.24 L106.00,357.56 L106.50,357.87 L107.00,358.18 L107.50,358.47 L108.00,358.77 L108.50,359.05 L109.00,359.33 L109.50,359.60 L110.00,359.87 L110.50,360.13 L111.00,360.38 L111.50,360.63 L112.00,360.87 L112.50,361.11 L113.00,361.34 L113.50,361.56 L114.00,361.78 L114.50,362.00 L115.00,362.21 L115.50,362.41 L116.00,362.61 L116.50,362.81 L117.00,363.00 L117.50,363.19 L118.00,363.37 L118.50,363.55 L119.00,363.72 L119.50,363.90 L120.00,364.06 L120.50,364.23 L121.00,364.39 L121.50,364.54 L122.00,364.70 L122.50,364.85 L123.00,364.99 L123.50,365.14 L124.00,365.28 L124.50,365.42 L125.00,365.56 L125.50,365.69 L126.00,365.82 L126.50,365.95 L127.00,366.08 L127.50,366.21 L128.00,366.33 L128.50,366.45 L129.00,366.57 L129.50,366.69 L130.00,366.81 L130.50,366.93 L131.00,367.04 L131.50,367.15 L132.00,367.26 L132.50,367.37 L133.00,367.48 L133.50,367.59 L134.00,367.69 L134.50,367.80 L135.00,367.90 L135.50,368.00 L136.00,368.10 L136.50,368.20 L137.00,368.29 L137.50,368.39 L138.00,368.48 L138.50,368.57 L139.00,368.66 L139.50,368.75 L140.00,368.84 L140.50,368.93 L141.00,369.02 L141.50,369.10 L142.00,369.19 L142.50,369.27 L143.00,369.35 L143.50,369.43 L144.00,369.51 L144.50,369.59 L145.00,369.67 L145.50,369.75 L146.00,369.82 L146.50,369.90 L147.00,369.97 L147.50,370.05 L148.00,370.12 L148.50,370.19 L149.00,370.26 L149.50,370.33 L150.00,370.40 L150.50,370.47 L151.00,370.54 L151.50,370.61 L152.00,370.68 L152.50,370.74 L153.00,370.81 L153.50,370.87 L154.00,370.94 L154.50,371.00 L155.00,371.06 L155.50,371.13 L156.00,371.19 L156.50,371.25 L157.00,371.31 L157.50,371.38 L158.00,371.44 L158.50,371.50 L159.00,371.56 L159.50,371.62 L160.00,371.68 L160.50,371.74 L161.00,371.80 L161.50,371.85 L162.00,371.91 L162.50,371.97 L163.00,372.03 L163.50,372.09 L164.00,372.15 L164.50,372.21 L165.00,372.26 L165.50,372.32 L166.00,372.38 L166.50,372.44 L167.00,372.50 L167.50,372.55 L168.00,372.61 L168.50,372.67 L169.00,372.73 L169.50,372.79 L170.00,372.85 L170.50,372.91 L171.00,372.97 L171.50,373.03 L172.00,373.09 L172.50,373.15 L173.00,373.21 L173.50,373.27 L174.00,373.33 L174.50,373.39 L175.00,373.45 L175.50,373.51 L176.00,373.58 L176.50,373.64 L177.00,373.70 L177.50,373.76 L178.00,373.83 L178.50,373.89 L179.00,373.96 L179.50,374.02 L180.00,374.08 L180.50,374.15 L181.00,374.21 L181.50,374.28 L182.00,374.34 L182.50,374.41 L183.00,374.47 L183.50,374.54 L184.00,374.61 L184.50,374.67 L185.00,374.74 L185.50,374.81 L186.00,374.87 L186.50,374.94 L187.00,375.01 L187.50,375.08 L188.00,375.15 L188.50,375.21 L189.00,375.28 L189.50,375.35 L190.00,375.42 L190.50,375.49 L191.00,375.56 L191.50,375.63 L192.00,375.70 L192.50,375.77 L193.00,375.84 L193.50,375.91 L194.00,375.98 L194.50,376.05 L195.00,376.12 L195.50,376.20 L196.00,376.27 L196.50,376.34 L197.00,376.41 L197.50,376.48 L198.00,376.56 L198.50,376.63 L199.00,376.70 L199.50,376.77 L200.00,376.85 L200.50,376.92 L201.00,376.99 L201.50,377.07 L202.00,377.14 L202.50,377.22 L203.00,377.29 L203.50,377.37 L204.00,377.44 L204.50,377.52 L205.00,377.59 L205.50,377.67 L206.00,377.74 L206.50,377.82 L207.00,377.89 L207.50,377.97 L208.00,378.04 L208.50,378.12 L209.00,378.20 L209.50,378.27 L210.00,378.35 L210.50,378.43 L211.00,378.50 L211.50,378.58 L212.00,378.66 L212.50,378.74 L213.00,378.81 L213.50,378.89 L214.00,378.97 L214.50,379.05 L215.00,379.13 L215.50,379.20 L216.00,379.28 L216.50,379.36 L217.00,379.44 L217.50,379.52 L218.00,379.60 L218.50,379.68 L219.00,379.76 L219.50,379.84 L220.00,379.92 L220.50,380.00 L221.00,380.08 L221.50,380.16 L222.00,380.24 L222.50,380.32 L223.00,380.40 L223.50,380.48 L224.00,380.56 L224.50,380.64 L225.00,380.72 L225.50,380.80 L226.00,380.88 L226.50,380.96 L227.00,381.04 L227.50,381.12 L228.00,381.21 L228.50,381.29 L229.00,381.37 L229.50,381.45 L230.00,381.53 L230.50,381.61 L231.00,381.70 L231.50,381.78 L232.00,381.86 L232.50,381.94 L233.00,382.02 L233.50,382.11 L234.00,382.19 L234.50,382.27 L235.00,382.35 L235.50,382.44 L236.00,382.52 L236.50,382.60 L237.00,382.69 L237.50,382.77 L238.00,382.85 L238.50,382.94 L239.00,383.02 L239.50,383.10 L240.00,383.19 L240.50,383.27 L241.00,383.35 L241.50,383.44 L242.00,383.52 L242.50,383.60 L243.00,383.69 L243.50,383.77 L244.00,383.85 L244.50,383.94 L245.00,384.02 L245.50,384.11 L246.00,384.19 L246.50,384.27 L247.00,384.36 L247.50,384.44 L248.00,384.53 L248.50,384.61 L249.00,384.69 L249.50,384.78 L250.00,384.86 L250.50,384.95 L251.00,385.03 L251.50,385.12 L252.00,385.20 L252.50,385.29 L253.00,385.37 L253.50,385.45 L254.00,385.54 L254.50,385.62 L255.00,385.71 L255.50,385.79 L256.00,385.88 L256.50,385.96 L257.00,386.05 L257.50,386.13 L258.00,386.21 L258.50,386.30 L259.00,386.38 L259.50,386.47 L260.00,386.55 L260.50,386.64 L261.00,386.72 L261.50,386.81 L262.00,386.89 L262.50,386.98 L263.00,387.06 L263.50,387.14 L264.00,387.23 L264.50,387.31 L265.00,387.40 L265.50,387.48 L266.00,387.57 L266.50,387.65 L267.00,387.74 L267.50,387.82 L268.00,387.90 L268.50,387.99 L269.00,388.07 L269.50,388.16 L270.00,388.24 L270.50,388.32 L271.00,388.41 L271.50,388.49 L272.00,388.58 L272.50,388.66 L273.00,388.74 L273.50,388.83 L274.00,388.91 L274.50,389.00 L275.00,389.08 L275.50,389.16 L276.00,389.25 L276.50,389.33 L277.00,389.41 L277.50,389.50 L278.00,389.58 L278.50,389.66 L279.00,389.75 L279.50,389.83 L280.00,389.91 L280.50,390.00 L281.00,390.08 L281.50,390.16 L282.00,390.25 L282.50,390.33 L283.00,390.41 L283.50,390.49 L284.00,390.58 L284.50,390.66 L285.00,390.74 L285.50,390.82 L286.00,390.91 L286.50,390.99 L287.00,391.07 L287.50,391.15 L288.00,391.23 L288.50,391.32 L289.00,391.40 L289.50,391.48 L290.00,391.56 L290.50,391.64 L291.00,391.72 L291.50,391.81 L292.00,391.89 L292.50,391.97 L293.00,392.05 L293.50,392.13 L294.00,392.21 L294.50,392.29 L295.00,392.37 L295.50,392.45 L296.00,392.53 L296.50,392.61 L297.00,392.69 L297.50,392.77 L298.00,392.85 L298.50,392.93 L299.00,393.01 L299.50,393.09 L300.00,393.17 L300.50,393.25 L301.00,393.33 L301.50,393.40 L302.00,393.48 L302.50,393.56 L303.00,393.64 L303.50,393.72 L304.00,393.80 L304.50,393.87 L305.00,393.95 L305.50,394.03 L306.00,394.11 L306.50,394.18 L307.00,394.26 L307.50,394.34 L308.00,394.42 L308.50,394.49 L309.00,394.57 L309.50,394.65 L310.00,394.72 L310.50,394.80 L311.00,394.87 L311.50,394.95 L312.00,395.03 L312.50,395.10 L313.00,395.18 L313.50,395.25 L314.00,395.33 L314.50,395.40 L315.00,395.47 L315.50,395.55 L316.00,395.62 L316.50,395.70 L317.00,395.77 L317.50,395.84 L318.00,395.92 L318.50,395.99 L319.00,396.06 L319.50,396.14 L320.00,396.21 L320.50,396.28 L321.00,396.35 L321.50,396.43 L322.00,396.50 L322.50,396.57 L323.00,396.64 L323.50,396.71 L324.00,396.78 L324.50,396.85 L325.00,396.93 L325.50,397.00 L326.00,397.07 L326.50,397.14 L327.00,397.21 L327.50,397.27 L328.00,397.34 L328.50,397.41 L329.00,397.48 L329.50,397.55 L330.00,397.62 L330.50,397.69 L331.00,397.76 L331.50,397.82 L332.00,397.89 L332.50,397.96 L333.00,398.02 L333.50,398.09 L334.00,398.16 L334.50,398.22 L335.00,398.29 L335.50,398.36 L336.00,398.42 L336.50,398.49 L337.00,398.55 L337.50,398.62 L338.00,398.68 L338.50,398.75 L339.00,398.81 L339.50,398.87 L340.00,398.94 L340.50,399.00 L341.00,399.06 L341.50,399.13 L342.00,399.19 L342.50,399.25 L343.00,399.31 L343.50,399.37 L344.00,399.44 L344.50,399.50 L345.00,399.56 L345.50,399.62 L346.00,399.68 L346.50,399.74 L347.00,399.80 L347.50,399.86 L348.00,399.92 L348.50,399.98 L349.00,400.03 L349.50,400.09 L350.00,400.15 L350.50,400.21 L351.00,400.27 L351.50,400.32 L352.00,400.38 L352.50,400.44 L353.00,400.49 L353.50,400.55 L354.00,400.60 L354.50,400.66 L355.00,400.71 L355.50,400.77 L356.00,400.82 L356.50,400.88 L357.00,400.93 L357.50,400.98 L358.00,401.04 L358.50,401.09 L359.00,401.14 L359.50,401.19 L360.00,401.25 L360.50,401.30 L361.00,401.35 L361.50,401.40 L362.00,401.45 L362.50,401.50 L363.00,401.55 L363.50,401.60 L364.00,401.65 L364.50,401.70 L365.00,401.75 L365.50,401.79 L366.00,401.84 L366.50,401.89 L367.00,401.94 L367.50,401.98 L368.00,402.03 L368.50,402.08 L369.00,402.12 L369.50,402.17 L370.00,402.21 L370.50,402.26 L371.00,402.30 L371.50,402.34 L372.00,402.39 L372.50,402.43 L373.00,402.47 L373.50,402.52 L374.00,402.56 L374.50,402.60 L375.00,402.64 L375.50,402.68 L376.00,402.72 L376.50,402.76 L377.00,402.80 L377.50,402.84 L378.00,402.88 L378.50,402.92 L379.00,402.96 L379.50,403.00 L380.00,403.03 L380.50,403.07 L381.00,403.11 L381.50,403.14 L382.00,403.18 L382.50,403.22 L383.00,403.25 L383.50,403.29 L384.00,403.32 L384.50,403.35 L385.00,403.39 L385.50,403.42 L386.00,403.45 L386.50,403.49 L387.00,403.52 L387.50,403.55 L388.00,403.58 L388.50,403.61 L389.00,403.64 L389.50,403.67 L390.00,403.70 L390.50,403.73 L391.00,403.76 L391.50,403.79 L392.00,403.81 L392.50,403.84 L393.00,403.87 L393.50,403.89 L394.00,403.92 L394.50,403.95 L395.00,403.97 L395.50,404.00 L396.00,404.02 L396.50,404.04 L397.00,404.07 L397.50,404.09 L398.00,404.11 L398.50,404.13 L399.00,404.16 L399.50,404.18 L400.00,404.20 L400.50,404.22 L401.00,404.24 L401.50,404.26 L402.00,404.28 L402.50,404.29 L403.00,404.31 L403.50,404.33 L404.00,404.35 L404.50,404.36 L405.00,404.38 L405.50,404.39 L406.00,404.41 L406.50,404.42 L407.00,404.44 L407.50,404.45 L408.00,404.46 L408.50,404.48 L409.00,404.49 L409.50,404.50 L410.00,404.51 L410.50,404.52 L411.00,404.53 L411.50,404.54 L412.00,404.55 L412.50,404.56 L413.00,404.57 L413.50,404.58 L414.00,404.58 L414.50,404.59 L415.00,404.60 L415.50,404.60 L416.00,404.61 L416.50,404.61 L417.00,404.62 L417.50,404.62 L418.00,404.63 L418.50,404.63 L419.00,404.63 L419.50,404.63 L420.00,404.63 L420.50,404.63 L421.00,404.63 L421.50,404.63 L422.00,404.63 L422.50,404.63 L423.00,404.63 L423.50,404.63 L424.00,404.62 L424.50,404.62 L425.00,404.62 L425.50,404.61 L426.00,404.61 L426.50,404.60 L427.00,404.59 L427.50,404.59 L428.00,404.58 L428.50,404.57 L429.00,404.56 L429.50,404.56 L430.00,404.55 L430.50,404.54 L431.00,404.53 L431.50,404.51 L432.00,404.50 L432.50,404.49 L433.00,404.48 L433.50,404.46 L434.00,404.45 L434.50,404.44 L435.00,404.42 L435.50,404.40 L436.00,404.39 L436.50,404.37 L437.00,404.35 L437.50,404.34 L438.00,404.32 L438.50,404.30 L439.00,404.28 L439.50,404.26 L440.00,404.24 L440.50,404.22 L441.00,404.19 L441.50,404.17 L442.00,404.15 L442.50,404.13 L443.00,404.10 L443.50,404.08 L444.00,404.05 L444.50,404.02 L445.00,404.00 L445.50,403.97 L446.00,403.94 L446.50,403.91 L447.00,403.88 L447.50,403.85 L448.00,403.82 L448.50,403.79 L449.00,403.76 L449.50,403.73 L450.00,403.70 L450.50,403.66 L451.00,403.63 L451.50,403.59 L452.00,403.56 L452.50,403.52 L453.00,403.49 L453.50,403.45 L454.00,403.41 L454.50,403.37 L455.00,403.33 L455.50,403.30 L456.00,403.25 L456.50,403.21 L456.60,403.21" fill="none" stroke="#D4685C" stroke-width="1.75" stroke-linejoin="round"/>
<path d="M68.00,373.79 L68.50,372.10 L69.00,370.45 L69.50,368.84 L70.00,367.26 L70.50,365.72 L71.00,364.22 L71.50,362.77 L72.00,361.36 L72.50,359.99 L73.00,358.68 L73.50,357.41 L74.00,356.19 L74.50,355.03 L75.00,353.92 L75.50,352.86 L76.00,351.87 L76.50,350.93 L77.00,350.06 L77.50,349.25 L78.00,348.50 L78.50,347.82 L79.00,347.21 L79.50,346.67 L80.00,346.20 L80.50,345.80 L81.00,345.48 L81.50,345.23 L82.00,345.07 L82.50,344.98 L83.00,344.98 L83.50,345.05 L84.00,345.21 L84.50,345.43 L85.00,345.71 L85.50,346.05 L86.00,346.44 L86.50,346.87 L87.00,347.34 L87.50,347.84 L88.00,348.36 L88.50,348.90 L89.00,349.45 L89.50,350.00 L90.00,350.54 L90.50,351.08 L91.00,351.61 L91.50,352.11 L92.00,352.59 L92.50,353.03 L93.00,353.44 L93.50,353.82 L94.00,354.18 L94.50,354.51 L95.00,354.82 L95.50,355.12 L96.00,355.40 L96.50,355.68 L97.00,355.95 L97.50,356.22 L98.00,356.47 L98.50,356.73 L99.00,356.97 L99.50,357.22 L100.00,357.46 L100.50,357.69 L101.00,357.92 L101.50,358.15 L102.00,358.37 L102.50,358.59 L103.00,358.81 L103.50,359.02 L104.00,359.24 L104.50,359.45 L105.00,359.66 L105.50,359.87 L106.00,360.08 L106.50,360.29 L107.00,360.51 L107.50,360.72 L108.00,360.93 L108.50,361.14 L109.00,361.36 L109.50,361.58 L110.00,361.80 L110.50,362.02 L111.00,362.25 L111.50,362.48 L112.00,362.71 L112.50,362.95 L113.00,363.19 L113.50,363.44 L114.00,363.69 L114.50,363.95 L115.00,364.21 L115.50,364.48 L116.00,364.76 L116.50,365.05 L117.00,365.34 L117.50,365.64 L118.00,365.94 L118.50,366.26 L119.00,366.59 L119.50,366.92 L120.00,367.26 L120.50,367.62 L121.00,367.98 L121.50,368.35 L122.00,368.74 L122.50,369.14 L123.00,369.54 L123.50,369.96 L124.00,370.39 L124.50,370.83 L125.00,371.28 L125.50,371.74 L126.00,372.21 L126.50,372.68 L127.00,373.17 L127.50,373.67 L128.00,374.17 L128.50,374.69 L129.00,375.21 L129.50,375.74 L130.00,376.28 L130.50,376.82 L131.00,377.38 L131.50,377.94 L132.00,378.50 L132.50,379.08 L133.00,379.66 L133.50,380.25 L134.00,380.84 L134.50,381.44 L135.00,382.05 L135.50,382.66 L136.00,383.28 L136.50,383.90 L137.00,384.53 L137.50,385.16 L138.00,385.80 L138.50,386.44 L139.00,387.08 L139.50,387.73 L140.00,388.38 L140.50,389.04 L141.00,389.70 L141.50,390.36 L142.00,391.03 L142.50,391.69 L143.00,392.37 L143.50,393.04 L144.00,393.71 L144.50,394.39 L145.00,395.07 L145.50,395.75 L146.00,396.43 L146.50,397.11 L147.00,397.79 L147.50,398.47 L148.00,399.16 L148.50,399.84 L149.00,400.52 L149.50,401.20 L150.00,401.88 L150.50,402.57 L151.00,403.25 L151.50,403.92 L152.00,404.60 L152.50,405.28 L153.00,405.95 L153.50,406.62 L154.00,407.29 L154.50,407.96 L155.00,408.62 L155.50,409.29 L156.00,409.94 L156.50,410.60 L157.00,411.25 L157.50,411.90 L158.00,412.54 L158.50,413.18 L159.00,413.82 L159.50,414.45 L160.00,415.07 L160.50,415.69 L161.00,416.31 L161.50,416.92 L162.00,417.52 L162.50,418.12 L163.00,418.71 L163.50,419.30 L164.00,419.88 L164.50,420.45 L165.00,421.02 L165.50,421.58 L166.00,422.14 L166.50,422.69 L167.00,423.24 L167.50,423.78 L168.00,424.31 L168.50,424.84 L169.00,425.36 L169.50,425.88 L170.00,426.39 L170.50,426.89 L171.00,427.39 L171.50,427.89 L172.00,428.37 L172.50,428.86 L173.00,429.33 L173.50,429.81 L174.00,430.27 L174.50,430.74 L175.00,431.19 L175.50,431.64 L176.00,432.09 L176.50,432.53 L177.00,432.96 L177.50,433.39 L178.00,433.82 L178.50,434.24 L179.00,434.65 L179.50,435.06 L180.00,435.46 L180.50,435.86 L181.00,436.26 L181.50,436.65 L182.00,437.03 L182.50,437.41 L183.00,437.78 L183.50,438.15 L184.00,438.52 L184.50,438.88 L185.00,439.23 L185.50,439.58 L186.00,439.93 L186.50,440.27 L187.00,440.60 L187.50,440.94 L188.00,441.26 L188.50,441.59 L189.00,441.90 L189.50,442.22 L190.00,442.52 L190.50,442.83 L191.00,443.13 L191.50,443.42 L192.00,443.71 L192.50,444.00 L193.00,444.28 L193.50,444.56 L194.00,444.83 L194.50,445.10 L195.00,445.37 L195.50,445.63 L196.00,445.89 L196.50,446.14 L197.00,446.39 L197.50,446.63 L198.00,446.87 L198.50,447.11 L199.00,447.34 L199.50,447.57 L200.00,447.79 L200.50,448.01 L201.00,448.23 L201.50,448.44 L202.00,448.65 L202.50,448.86 L203.00,449.06 L203.50,449.26 L204.00,449.45 L204.50,449.64 L205.00,449.83 L205.50,450.01 L206.00,450.19 L206.50,450.36 L207.00,450.54 L207.50,450.70 L208.00,450.87 L208.50,451.03 L209.00,451.19 L209.50,451.34 L210.00,451.49 L210.50,451.64 L211.00,451.79 L211.50,451.93 L212.00,452.07 L212.50,452.20 L213.00,452.33 L213.50,452.46 L214.00,452.59 L214.50,452.71 L215.00,452.83 L215.50,452.94 L216.00,453.06 L216.50,453.17 L217.00,453.27 L217.50,453.38 L218.00,453.48 L218.50,453.57 L219.00,453.67 L219.50,453.76 L220.00,453.85 L220.50,453.94 L221.00,454.02 L221.50,454.10 L222.00,454.18 L222.50,454.26 L223.00,454.33 L223.50,454.40 L224.00,454.47 L224.50,454.53 L225.00,454.60 L225.50,454.66 L226.00,454.71 L226.50,454.77 L227.00,454.82 L227.50,454.87 L228.00,454.92 L228.50,454.97 L229.00,455.01 L229.50,455.05 L230.00,455.09 L230.50,455.13 L231.00,455.16 L231.50,455.19 L232.00,455.22 L232.50,455.25 L233.00,455.28 L233.50,455.30 L234.00,455.32 L234.50,455.34 L235.00,455.36 L235.50,455.37 L236.00,455.39 L236.50,455.40 L237.00,455.41 L237.50,455.42 L238.00,455.42 L238.50,455.43 L239.00,455.43 L239.50,455.43 L240.00,455.43 L240.50,455.43 L241.00,455.43 L241.50,455.42 L242.00,455.41 L242.50,455.40 L243.00,455.39 L243.50,455.38 L244.00,455.37 L244.50,455.35 L245.00,455.34 L245.50,455.32 L246.00,455.30 L246.50,455.28 L247.00,455.25 L247.50,455.23 L248.00,455.20 L248.50,455.18 L249.00,455.15 L249.50,455.12 L250.00,455.09 L250.50,455.05 L251.00,455.02 L251.50,454.98 L252.00,454.95 L252.50,454.91 L253.00,454.87 L253.50,454.83 L254.00,454.79 L254.50,454.74 L255.00,454.70 L255.50,454.65 L256.00,454.61 L256.50,454.56 L257.00,454.51 L257.50,454.46 L258.00,454.41 L258.50,454.35 L259.00,454.30 L259.50,454.24 L260.00,454.19 L260.50,454.13 L261.00,454.07 L261.50,454.01 L262.00,453.95 L262.50,453.89 L263.00,453.83 L263.50,453.76 L264.00,453.70 L264.50,453.63 L265.00,453.56 L265.50,453.50 L266.00,453.43 L266.50,453.36 L267.00,453.29 L267.50,453.22 L268.00,453.14 L268.50,453.07 L269.00,453.00 L269.50,452.92 L270.00,452.85 L270.50,452.77 L271.00,452.69 L271.50,452.62 L272.00,452.54 L272.50,452.46 L273.00,452.38 L273.50,452.30 L274.00,452.21 L274.50,452.13 L275.00,452.05 L275.50,451.97 L276.00,451.88 L276.50,451.80 L277.00,451.71 L277.50,451.62 L278.00,451.54 L278.50,451.45 L279.00,451.36 L279.50,451.27 L280.00,451.18 L280.50,451.10 L281.00,451.01 L281.50,450.91 L282.00,450.82 L282.50,450.73 L283.00,450.64 L283.50,450.55 L284.00,450.46 L284.50,450.36 L285.00,450.27 L285.50,450.18 L286.00,450.08 L286.50,449.99 L287.00,449.89 L287.50,449.80 L288.00,449.70 L288.50,449.61 L289.00,449.51 L289.50,449.41 L290.00,449.32 L290.50,449.22 L291.00,449.12 L291.50,449.03 L292.00,448.93 L292.50,448.83 L293.00,448.73 L293.50,448.63 L294.00,448.54 L294.50,448.44 L295.00,448.34 L295.50,448.24 L296.00,448.14 L296.50,448.05 L297.00,447.95 L297.50,447.85 L298.00,447.75 L298.50,447.65 L299.00,447.55 L299.50,447.46 L300.00,447.36 L300.50,447.26 L301.00,447.16 L301.50,447.06 L302.00,446.96 L302.50,446.87 L303.00,446.77 L303.50,446.67 L304.00,446.57 L304.50,446.48 L305.00,446.38 L305.50,446.28 L306.00,446.19 L306.50,446.09 L307.00,445.99 L307.50,445.90 L308.00,445.80 L308.50,445.71 L309.00,445.61 L309.50,445.52 L310.00,445.42 L310.50,445.33 L311.00,445.24 L311.50,445.14 L312.00,445.05 L312.50,444.96 L313.00,444.86 L313.50,444.77 L314.00,444.68 L314.50,444.59 L315.00,444.50 L315.50,444.41 L316.00,444.32 L316.50,444.23 L317.00,444.15 L317.50,444.06 L318.00,443.97 L318.50,443.89 L319.00,443.80 L319.50,443.71 L320.00,443.63 L320.50,443.55 L321.00,443.46 L321.50,443.38 L322.00,443.30 L322.50,443.22 L323.00,443.14 L323.50,443.06 L324.00,442.98 L324.50,442.90 L325.00,442.82 L325.50,442.75 L326.00,442.67 L326.50,442.60 L327.00,442.52 L327.50,442.45 L328.00,442.38 L328.50,442.30 L329.00,442.23 L329.50,442.16 L330.00,442.09 L330.50,442.03 L331.00,441.96 L331.50,441.89 L332.00,441.83 L332.50,441.76 L333.00,441.70 L333.50,441.64 L334.00,441.58 L334.50,441.52 L335.00,441.46 L335.50,441.40 L336.00,441.35 L336.50,441.29 L337.00,441.24 L337.50,441.18 L338.00,441.13 L338.50,441.08 L339.00,441.03 L339.50,440.98 L340.00,440.93 L340.50,440.89 L341.00,440.84 L341.50,440.80 L342.00,440.76 L342.50,440.71 L343.00,440.67 L343.50,440.64 L344.00,440.60 L344.50,440.56 L345.00,440.53 L345.50,440.50 L346.00,440.46 L346.50,440.43 L347.00,440.40 L347.50,440.38 L348.00,440.35 L348.50,440.33 L349.00,440.30 L349.50,440.28 L350.00,440.26 L350.50,440.24 L351.00,440.22 L351.50,440.21 L352.00,440.19 L352.50,440.18 L353.00,440.17 L353.50,440.16 L354.00,440.15 L354.50,440.15 L355.00,440.14 L355.50,440.14 L356.00,440.14 L356.30,440.14" fill="none" stroke="#2E9B3A" stroke-width="1.75" stroke-linejoin="round"/>
<path d="M68.00,382.53 L68.50,384.04 L69.00,385.54 L69.50,387.02 L70.00,388.49 L70.50,389.93 L71.00,391.35 L71.50,392.75 L72.00,394.12 L72.50,395.47 L73.00,396.79 L73.50,398.08 L74.00,399.35 L74.50,400.58 L75.00,401.78 L75.50,402.95 L76.00,404.09 L76.50,405.19 L77.00,406.25 L77.50,407.28 L78.00,408.28 L78.50,409.23 L79.00,410.14 L79.50,411.01 L80.00,411.84 L80.50,412.63 L81.00,413.39 L81.50,414.10 L82.00,414.78 L82.50,415.42 L83.00,416.04 L83.50,416.62 L84.00,417.17 L84.50,417.70 L85.00,418.20 L85.50,418.68 L86.00,419.14 L86.50,419.57 L87.00,419.99 L87.50,420.39 L88.00,420.77 L88.50,421.14 L89.00,421.50 L89.50,421.84 L90.00,422.18 L90.50,422.51 L91.00,422.84 L91.50,423.16 L92.00,423.47 L92.50,423.78 L93.00,424.08 L93.50,424.38 L94.00,424.67 L94.50,424.96 L95.00,425.24 L95.50,425.52 L96.00,425.79 L96.50,426.05 L97.00,426.31 L97.50,426.56 L98.00,426.81 L98.50,427.05 L99.00,427.29 L99.50,427.52 L100.00,427.74 L100.50,427.96 L101.00,428.17 L101.50,428.38 L102.00,428.58 L102.50,428.77 L103.00,428.96 L103.50,429.14 L104.00,429.32 L104.50,429.49 L105.00,429.65 L105.50,429.81 L106.00,429.96 L106.50,430.11 L107.00,430.25 L107.50,430.39 L108.00,430.52 L108.50,430.64 L109.00,430.76 L109.50,430.87 L110.00,430.98 L110.50,431.09 L111.00,431.18 L111.50,431.28 L112.00,431.37 L112.50,431.45 L113.00,431.53 L113.50,431.60 L114.00,431.67 L114.50,431.74 L115.00,431.80 L115.50,431.85 L116.00,431.90 L116.50,431.95 L117.00,431.99 L117.50,432.03 L118.00,432.06 L118.50,432.09 L119.00,432.12 L119.50,432.14 L120.00,432.16 L120.50,432.17 L121.00,432.18 L121.50,432.19 L122.00,432.19 L122.50,432.19 L123.00,432.19 L123.50,432.18 L124.00,432.17 L124.50,432.16 L125.00,432.14 L125.50,432.12 L126.00,432.10 L126.50,432.07 L127.00,432.04 L127.50,432.01 L128.00,431.98 L128.50,431.94 L129.00,431.90 L129.50,431.86 L130.00,431.81 L130.50,431.76 L131.00,431.71 L131.50,431.66 L132.00,431.60 L132.50,431.55 L133.00,431.49 L133.50,431.43 L134.00,431.36 L134.50,431.30 L135.00,431.23 L135.50,431.16 L136.00,431.09 L136.50,431.02 L137.00,430.95 L137.50,430.87 L138.00,430.79 L138.50,430.72 L139.00,430.64 L139.50,430.55 L140.00,430.47 L140.50,430.39 L141.00,430.31 L141.50,430.22 L142.00,430.13 L142.50,430.05 L143.00,429.96 L143.50,429.87 L144.00,429.78 L144.50,429.69 L145.00,429.60 L145.50,429.51 L146.00,429.42 L146.50,429.33 L147.00,429.24 L147.50,429.15 L148.00,429.05 L148.50,428.96 L149.00,428.87 L149.50,428.78 L150.00,428.69 L150.50,428.59 L151.00,428.50 L151.50,428.41 L152.00,428.32 L152.50,428.23 L153.00,428.14 L153.50,428.05 L154.00,427.97 L154.50,427.88 L155.00,427.79 L155.50,427.71 L156.00,427.62 L156.50,427.54 L157.00,427.46 L157.50,427.37 L158.00,427.29 L158.50,427.22 L159.00,427.14 L159.50,427.06 L160.00,426.99 L160.50,426.91 L161.00,426.84 L161.50,426.77 L162.00,426.71 L162.50,426.64 L163.00,426.57 L163.50,426.51 L164.00,426.45 L164.50,426.39 L165.00,426.33 L165.50,426.27 L166.00,426.22 L166.50,426.16 L167.00,426.11 L167.50,426.06 L168.00,426.01 L168.50,425.96 L169.00,425.92 L169.50,425.87 L170.00,425.83 L170.50,425.78 L171.00,425.74 L171.50,425.70 L172.00,425.66 L172.50,425.62 L173.00,425.59 L173.50,425.55 L174.00,425.52 L174.50,425.49 L175.00,425.46 L175.50,425.43 L176.00,425.40 L176.50,425.37 L177.00,425.35 L177.50,425.32 L178.00,425.30 L178.50,425.27 L179.00,425.25 L179.50,425.23 L180.00,425.21 L180.50,425.19 L181.00,425.18 L181.50,425.16 L182.00,425.15 L182.50,425.13 L183.00,425.12 L183.50,425.11 L184.00,425.10 L184.50,425.09 L185.00,425.08 L185.50,425.07 L186.00,425.06 L186.50,425.06 L187.00,425.05 L187.50,425.05 L188.00,425.04 L188.50,425.04 L189.00,425.04 L189.50,425.04 L190.00,425.04 L190.50,425.04 L191.00,425.04 L191.50,425.04 L192.00,425.05 L192.50,425.05 L193.00,425.06 L193.50,425.06 L194.00,425.07 L194.50,425.07 L195.00,425.08 L195.50,425.09 L196.00,425.10 L196.50,425.11 L197.00,425.12 L197.50,425.13 L198.00,425.14 L198.50,425.15 L199.00,425.17 L199.50,425.18 L200.00,425.19 L200.50,425.21 L201.00,425.22 L201.50,425.24 L202.00,425.25 L202.50,425.27 L203.00,425.29 L203.50,425.30 L204.00,425.32 L204.50,425.34 L205.00,425.36 L205.50,425.38 L206.00,425.40 L206.50,425.42 L207.00,425.44 L207.50,425.46 L208.00,425.48 L208.50,425.50 L209.00,425.52 L209.50,425.54 L210.00,425.56 L210.50,425.59 L211.00,425.61 L211.50,425.63 L212.00,425.65 L212.50,425.68 L213.00,425.70 L213.50,425.72 L214.00,425.75 L214.50,425.77 L215.00,425.80 L215.50,425.82 L216.00,425.84 L216.50,425.87 L217.00,425.89 L217.50,425.92 L218.00,425.94 L218.50,425.97 L219.00,425.99 L219.50,426.02 L220.00,426.04 L220.50,426.07 L221.00,426.09 L221.50,426.12 L222.00,426.14 L222.50,426.17 L223.00,426.19 L223.50,426.22 L224.00,426.24 L224.50,426.27 L225.00,426.29 L225.50,426.32 L226.00,426.34 L226.50,426.37 L227.00,426.40 L227.50,426.42 L228.00,426.45 L228.50,426.47 L229.00,426.50 L229.50,426.53 L230.00,426.55 L230.50,426.58 L231.00,426.60 L231.50,426.63 L232.00,426.66 L232.50,426.68 L233.00,426.71 L233.50,426.74 L234.00,426.76 L234.50,426.79 L235.00,426.82 L235.50,426.84 L236.00,426.87 L236.50,426.90 L237.00,426.92 L237.50,426.95 L238.00,426.98 L238.50,427.00 L239.00,427.03 L239.50,427.06 L240.00,427.08 L240.50,427.11 L241.00,427.14 L241.50,427.16 L242.00,427.19 L242.50,427.22 L243.00,427.25 L243.50,427.27 L244.00,427.30 L244.50,427.33 L245.00,427.36 L245.50,427.38 L246.00,427.41 L246.50,427.44 L247.00,427.46 L247.50,427.49 L248.00,427.52 L248.50,427.55 L249.00,427.57 L249.50,427.60 L250.00,427.63 L250.50,427.66 L251.00,427.68 L251.50,427.71 L252.00,427.74 L252.50,427.77 L253.00,427.80 L253.50,427.82 L254.00,427.85 L254.50,427.88 L255.00,427.91 L255.50,427.93 L256.00,427.96 L256.50,427.99 L257.00,428.02 L257.50,428.04 L258.00,428.07 L258.50,428.10 L259.00,428.13 L259.50,428.16 L260.00,428.18 L260.50,428.21 L261.00,428.24 L261.50,428.27 L262.00,428.29 L262.50,428.32 L263.00,428.35 L263.50,428.38 L264.00,428.41 L264.50,428.43 L265.00,428.46 L265.50,428.49 L266.00,428.52 L266.50,428.54 L267.00,428.57 L267.50,428.60 L268.00,428.63 L268.50,428.65 L269.00,428.68 L269.50,428.71 L270.00,428.74 L270.50,428.77 L271.00,428.79 L271.50,428.82 L272.00,428.85 L272.50,428.88 L273.00,428.90 L273.50,428.93 L274.00,428.96 L274.50,428.99 L275.00,429.01 L275.50,429.04 L276.00,429.07 L276.50,429.10 L277.00,429.12 L277.50,429.15 L278.00,429.18 L278.50,429.21 L279.00,429.23 L279.50,429.26 L280.00,429.29 L280.50,429.31 L281.00,429.34 L281.50,429.37 L282.00,429.40 L282.50,429.42 L283.00,429.45 L283.50,429.48 L284.00,429.50 L284.50,429.53 L285.00,429.56 L285.50,429.58 L286.00,429.61 L286.50,429.64 L287.00,429.67 L287.50,429.69 L288.00,429.72 L288.50,429.75 L289.00,429.77 L289.50,429.80 L290.00,429.82 L290.50,429.85 L291.00,429.88 L291.50,429.90 L292.00,429.93 L292.50,429.96 L293.00,429.98 L293.50,430.01 L294.00,430.04 L294.50,430.06 L295.00,430.09 L295.50,430.11 L296.00,430.14 L296.50,430.16 L297.00,430.19 L297.50,430.22 L298.00,430.24 L298.50,430.27 L299.00,430.29 L299.50,430.32 L300.00,430.34 L300.50,430.37 L301.00,430.39 L301.50,430.42 L302.00,430.44 L302.50,430.47 L303.00,430.49 L303.50,430.52 L304.00,430.54 L304.50,430.57 L305.00,430.59 L305.50,430.62 L306.00,430.64 L306.50,430.67 L307.00,430.69 L307.50,430.72 L308.00,430.74 L308.50,430.77 L309.00,430.79 L309.50,430.81 L310.00,430.84 L310.50,430.86 L311.00,430.88 L311.50,430.91 L312.00,430.93 L312.50,430.96 L313.00,430.98 L313.50,431.00 L314.00,431.02 L314.50,431.05 L315.00,431.07 L315.50,431.09 L316.00,431.12 L316.50,431.14 L317.00,431.16 L317.50,431.18 L318.00,431.21 L318.50,431.23 L319.00,431.25 L319.50,431.27 L320.00,431.29 L320.50,431.32 L321.00,431.34 L321.50,431.36 L322.00,431.38 L322.50,431.40 L323.00,431.42 L323.50,431.44 L324.00,431.46 L324.50,431.48 L325.00,431.50 L325.50,431.52 L326.00,431.54 L326.50,431.56 L327.00,431.58 L327.50,431.60 L328.00,431.62 L328.50,431.64 L329.00,431.66 L329.50,431.68 L330.00,431.70 L330.50,431.72 L331.00,431.74 L331.50,431.76 L332.00,431.77 L332.50,431.79 L333.00,431.81 L333.50,431.83 L334.00,431.85 L334.50,431.86 L335.00,431.88 L335.50,431.90 L336.00,431.91 L336.50,431.93 L337.00,431.95 L337.50,431.96 L338.00,431.98 L338.50,432.00 L339.00,432.01 L339.50,432.03 L340.00,432.04 L340.50,432.06 L341.00,432.07 L341.50,432.09 L342.00,432.10 L342.50,432.12 L343.00,432.13 L343.50,432.15 L344.00,432.16 L344.50,432.17 L345.00,432.19 L345.50,432.20 L346.00,432.21 L346.50,432.23 L347.00,432.24 L347.50,432.25 L348.00,432.26 L348.50,432.27 L349.00,432.29 L349.50,432.30 L350.00,432.31 L350.50,432.32 L351.00,432.33 L351.50,432.34 L352.00,432.35 L352.50,432.36 L353.00,432.37 L353.50,432.38 L354.00,432.39 L354.50,432.40 L355.00,432.41 L355.50,432.42 L356.00,432.43 L356.50,432.43 L357.00,432.44 L357.50,432.45 L358.00,432.46 L358.50,432.46 L359.00,432.47 L359.50,432.48 L360.00,432.48 L360.50,432.49 L361.00,432.50 L361.50,432.50 L362.00,432.51 L362.50,432.51 L363.00,432.52 L363.50,432.52 L364.00,432.53 L364.50,432.53 L365.00,432.53 L365.50,432.54 L366.00,432.54 L366.50,432.54 L367.00,432.55 L367.50,432.55 L368.00,432.55 L368.50,432.55 L369.00,432.56 L369.50,432.56 L370.00,432.56 L370.50,432.56 L371.00,432.56 L371.50,432.56 L372.00,432.56 L372.50,432.56 L373.00,432.56 L373.50,432.56 L374.00,432.55 L374.50,432.55 L375.00,432.55 L375.50,432.55 L376.00,432.55 L376.50,432.54 L377.00,432.54 L377.50,432.54 L378.00,432.53 L378.50,432.53 L379.00,432.52 L379.50,432.52 L380.00,432.51 L380.50,432.51 L381.00,432.50 L381.50,432.50 L382.00,432.49 L382.50,432.48 L383.00,432.48 L383.50,432.47 L384.00,432.46 L384.50,432.45 L385.00,432.44 L385.50,432.43 L386.00,432.43 L386.50,432.42 L387.00,432.41 L387.50,432.40 L388.00,432.39 L388.50,432.37 L389.00,432.36 L389.50,432.35 L390.00,432.34 L390.50,432.33 L391.00,432.31 L391.50,432.30 L392.00,432.29 L392.50,432.27 L393.00,432.26 L393.50,432.25 L394.00,432.23 L394.50,432.22 L395.00,432.20 L395.50,432.18 L396.00,432.17 L396.50,432.15 L397.00,432.13 L397.50,432.12 L398.00,432.10 L398.50,432.08 L399.00,432.06 L399.50,432.04 L400.00,432.02 L400.50,432.00 L401.00,431.98 L401.50,431.96 L402.00,431.94 L402.50,431.92 L403.00,431.90 L403.50,431.87 L404.00,431.85 L404.50,431.83 L405.00,431.81 L405.50,431.78 L406.00,431.76 L406.50,431.73 L407.00,431.71 L407.50,431.68 L408.00,431.66 L408.50,431.63 L409.00,431.60 L409.50,431.58 L410.00,431.55 L410.50,431.52 L411.00,431.49 L411.50,431.46 L412.00,431.43 L412.50,431.40 L413.00,431.37 L413.50,431.34 L414.00,431.31 L414.50,431.28 L415.00,431.25 L415.50,431.22 L416.00,431.18 L416.50,431.15 L417.00,431.12 L417.50,431.08 L418.00,431.05 L418.50,431.01 L419.00,430.98 L419.50,430.94 L420.00,430.90 L420.50,430.87 L421.00,430.83 L421.50,430.79 L422.00,430.75 L422.50,430.72 L423.00,430.68 L423.50,430.64 L424.00,430.60 L424.50,430.56 L425.00,430.51 L425.50,430.47 L426.00,430.43 L426.50,430.39 L427.00,430.35 L427.50,430.30 L428.00,430.26 L428.50,430.21 L429.00,430.17 L429.50,430.12 L430.00,430.08 L430.50,430.03 L431.00,429.98 L431.50,429.94 L432.00,429.89 L432.50,429.84 L433.00,429.79 L433.50,429.74 L434.00,429.69 L434.50,429.64 L435.00,429.59 L435.50,429.54 L436.00,429.49 L436.50,429.43 L437.00,429.38 L437.50,429.33 L438.00,429.27 L438.50,429.22 L439.00,429.17 L439.50,429.11 L440.00,429.05 L440.50,429.00 L441.00,428.94 L441.50,428.88 L442.00,428.82 L442.50,428.77 L443.00,428.71 L443.50,428.65 L444.00,428.59 L444.50,428.53 L445.00,428.46 L445.50,428.40 L446.00,428.34 L446.50,428.28 L447.00,428.21 L447.50,428.15 L448.00,428.08 L448.50,428.02 L449.00,427.95 L449.50,427.89 L450.00,427.82 L450.50,427.75 L451.00,427.68 L451.50,427.62 L452.00,427.55 L452.50,427.48 L453.00,427.41 L453.50,427.34 L454.00,427.26 L454.50,427.19 L455.00,427.12 L455.50,427.05 L456.00,426.97 L456.50,426.90 L456.60,426.88" fill="none" stroke="#5B85D5" stroke-width="1.75" stroke-linejoin="round"/>
<rect x="48.7" y="297.6" width="426.9" height="197.3" fill="none" stroke="#1a1a1a" stroke-width="1.35"/>
<line x1="45.3" y1="298.60" x2="48.7" y2="298.60" stroke="#1a1a1a" stroke-width="0.9"/>
<text x="33.70" y="301.10" font-size="7.2" fill="#222" textLength="6.50" lengthAdjust="spacingAndGlyphs" stroke="#222" stroke-width="0.15">10</text>
<text x="40.60" y="297.40" font-size="4.2" fill="#222" textLength="1.90" lengthAdjust="spacingAndGlyphs" stroke="#222" stroke-width="0.14">6</text>
<line x1="45.3" y1="340.40" x2="48.7" y2="340.40" stroke="#1a1a1a" stroke-width="0.9"/>
<text x="33.70" y="342.90" font-size="7.2" fill="#222" textLength="6.50" lengthAdjust="spacingAndGlyphs" stroke="#222" stroke-width="0.15">10</text>
<text x="40.60" y="339.20" font-size="4.2" fill="#222" textLength="1.90" lengthAdjust="spacingAndGlyphs" stroke="#222" stroke-width="0.14">4</text>
<line x1="45.3" y1="382.20" x2="48.7" y2="382.20" stroke="#1a1a1a" stroke-width="0.9"/>
<text x="33.70" y="384.70" font-size="7.2" fill="#222" textLength="6.50" lengthAdjust="spacingAndGlyphs" stroke="#222" stroke-width="0.15">10</text>
<text x="40.60" y="381.00" font-size="4.2" fill="#222" textLength="1.90" lengthAdjust="spacingAndGlyphs" stroke="#222" stroke-width="0.14">2</text>
<line x1="45.3" y1="424.00" x2="48.7" y2="424.00" stroke="#1a1a1a" stroke-width="0.9"/>
<text x="33.70" y="426.50" font-size="7.2" fill="#222" textLength="6.50" lengthAdjust="spacingAndGlyphs" stroke="#222" stroke-width="0.15">10</text>
<text x="40.60" y="422.80" font-size="4.2" fill="#222" textLength="1.90" lengthAdjust="spacingAndGlyphs" stroke="#222" stroke-width="0.14">0</text>
<line x1="45.3" y1="465.80" x2="48.7" y2="465.80" stroke="#1a1a1a" stroke-width="0.9"/>
<text x="32.20" y="468.30" font-size="7.2" fill="#222" textLength="6.50" lengthAdjust="spacingAndGlyphs" stroke="#222" stroke-width="0.15">10</text>
<text x="39.10" y="464.60" font-size="4.2" fill="#222" textLength="3.80" lengthAdjust="spacingAndGlyphs" stroke="#222" stroke-width="0.14">−2</text>
<line x1="67.90" y1="494.9" x2="67.90" y2="497.7" stroke="#1a1a1a" stroke-width="0.9"/>
<text x="66.15" y="506.50" font-size="6.0" fill="#222" textLength="3.50" lengthAdjust="spacingAndGlyphs" stroke="#222" stroke-width="0.15">0</text>
<line x1="100.30" y1="494.9" x2="100.30" y2="497.7" stroke="#1a1a1a" stroke-width="0.9"/>
<text x="98.55" y="506.50" font-size="6.0" fill="#222" textLength="3.50" lengthAdjust="spacingAndGlyphs" stroke="#222" stroke-width="0.15">1</text>
<line x1="132.70" y1="494.9" x2="132.70" y2="497.7" stroke="#1a1a1a" stroke-width="0.9"/>
<text x="130.95" y="506.50" font-size="6.0" fill="#222" textLength="3.50" lengthAdjust="spacingAndGlyphs" stroke="#222" stroke-width="0.15">2</text>
<line x1="165.10" y1="494.9" x2="165.10" y2="497.7" stroke="#1a1a1a" stroke-width="0.9"/>
<text x="163.35" y="506.50" font-size="6.0" fill="#222" textLength="3.50" lengthAdjust="spacingAndGlyphs" stroke="#222" stroke-width="0.15">3</text>
<line x1="197.50" y1="494.9" x2="197.50" y2="497.7" stroke="#1a1a1a" stroke-width="0.9"/>
<text x="195.75" y="506.50" font-size="6.0" fill="#222" textLength="3.50" lengthAdjust="spacingAndGlyphs" stroke="#222" stroke-width="0.15">4</text>
<line x1="229.90" y1="494.9" x2="229.90" y2="497.7" stroke="#1a1a1a" stroke-width="0.9"/>
<text x="228.15" y="506.50" font-size="6.0" fill="#222" textLength="3.50" lengthAdjust="spacingAndGlyphs" stroke="#222" stroke-width="0.15">5</text>
<line x1="262.30" y1="494.9" x2="262.30" y2="497.7" stroke="#1a1a1a" stroke-width="0.9"/>
<text x="260.55" y="506.50" font-size="6.0" fill="#222" textLength="3.50" lengthAdjust="spacingAndGlyphs" stroke="#222" stroke-width="0.15">6</text>
<line x1="294.70" y1="494.9" x2="294.70" y2="497.7" stroke="#1a1a1a" stroke-width="0.9"/>
<text x="292.95" y="506.50" font-size="6.0" fill="#222" textLength="3.50" lengthAdjust="spacingAndGlyphs" stroke="#222" stroke-width="0.15">7</text>
<line x1="327.10" y1="494.9" x2="327.10" y2="497.7" stroke="#1a1a1a" stroke-width="0.9"/>
<text x="325.35" y="506.50" font-size="6.0" fill="#222" textLength="3.50" lengthAdjust="spacingAndGlyphs" stroke="#222" stroke-width="0.15">8</text>
<line x1="359.50" y1="494.9" x2="359.50" y2="497.7" stroke="#1a1a1a" stroke-width="0.9"/>
<text x="357.75" y="506.50" font-size="6.0" fill="#222" textLength="3.50" lengthAdjust="spacingAndGlyphs" stroke="#222" stroke-width="0.15">9</text>
<line x1="391.90" y1="494.9" x2="391.90" y2="497.7" stroke="#1a1a1a" stroke-width="0.9"/>
<text x="388.40" y="506.50" font-size="6.0" fill="#222" textLength="7.00" lengthAdjust="spacingAndGlyphs" stroke="#222" stroke-width="0.15">10</text>
<line x1="424.30" y1="494.9" x2="424.30" y2="497.7" stroke="#1a1a1a" stroke-width="0.9"/>
<text x="420.80" y="506.50" font-size="6.0" fill="#222" textLength="7.00" lengthAdjust="spacingAndGlyphs" stroke="#222" stroke-width="0.15">11</text>
<line x1="456.70" y1="494.9" x2="456.70" y2="497.7" stroke="#1a1a1a" stroke-width="0.9"/>
<text x="453.20" y="506.50" font-size="6.0" fill="#222" textLength="7.00" lengthAdjust="spacingAndGlyphs" stroke="#222" stroke-width="0.15">12</text>
<text x="233.05" y="518.50" font-size="8.5" fill="#111" textLength="58.90" lengthAdjust="spacingAndGlyphs" stroke="#111" stroke-width="0.22">Months after CART2</text>
<g transform="translate(26.1,395.9) rotate(-90)">
<text x="-60.75" y="0.00" font-size="8.2" fill="#111" textLength="121.50" lengthAdjust="spacingAndGlyphs" stroke="#111" stroke-width="0.22">CAR transgene in blood (copies/μg DNA)</text>
</g>
<rect x="153.50" y="529.7" width="10.7" height="13.1" fill="#D6D6D6"/>
<line x1="153.50" y1="536.4" x2="164.20" y2="536.4" stroke="#D4685C" stroke-width="1.2"/>
<text x="167.30" y="535.00" font-size="4.8" fill="#222" textLength="45.40" lengthAdjust="spacingAndGlyphs" stroke="#222" stroke-width="0.14">pre-CART1 Cy-Flu</text>
<text x="167.30" y="541.70" font-size="4.8" fill="#222" textLength="50.80" lengthAdjust="spacingAndGlyphs" stroke="#222" stroke-width="0.14">CART2&gt;CART1 dose</text>
<rect x="227.60" y="529.7" width="10.7" height="13.1" fill="#D6D6D6"/>
<line x1="227.60" y1="536.4" x2="238.30" y2="536.4" stroke="#2E9B3A" stroke-width="1.2"/>
<text x="241.60" y="535.00" font-size="4.8" fill="#222" textLength="44.20" lengthAdjust="spacingAndGlyphs" stroke="#222" stroke-width="0.14">pre-CART1 Cy-Flu</text>
<text x="241.60" y="541.70" font-size="4.8" fill="#222" textLength="51.10" lengthAdjust="spacingAndGlyphs" stroke="#222" stroke-width="0.14">CART2=CART1 dose</text>
<rect x="302.30" y="529.7" width="10.7" height="13.1" fill="#D6D6D6"/>
<line x1="302.30" y1="536.4" x2="313.00" y2="536.4" stroke="#5B85D5" stroke-width="1.2"/>
<text x="315.80" y="535.00" font-size="4.8" fill="#222" textLength="55.20" lengthAdjust="spacingAndGlyphs" stroke="#222" stroke-width="0.14">pre-CART1 non-Cy-Flu</text>
<text x="315.80" y="541.70" font-size="4.8" fill="#222" textLength="51.40" lengthAdjust="spacingAndGlyphs" stroke="#222" stroke-width="0.14">CART2&gt;CART1 dose</text>
<rect x="0.5" y="0.5" width="519" height="549" fill="none" stroke="#000" stroke-width="1.2"/>
</svg>
</body></html>
